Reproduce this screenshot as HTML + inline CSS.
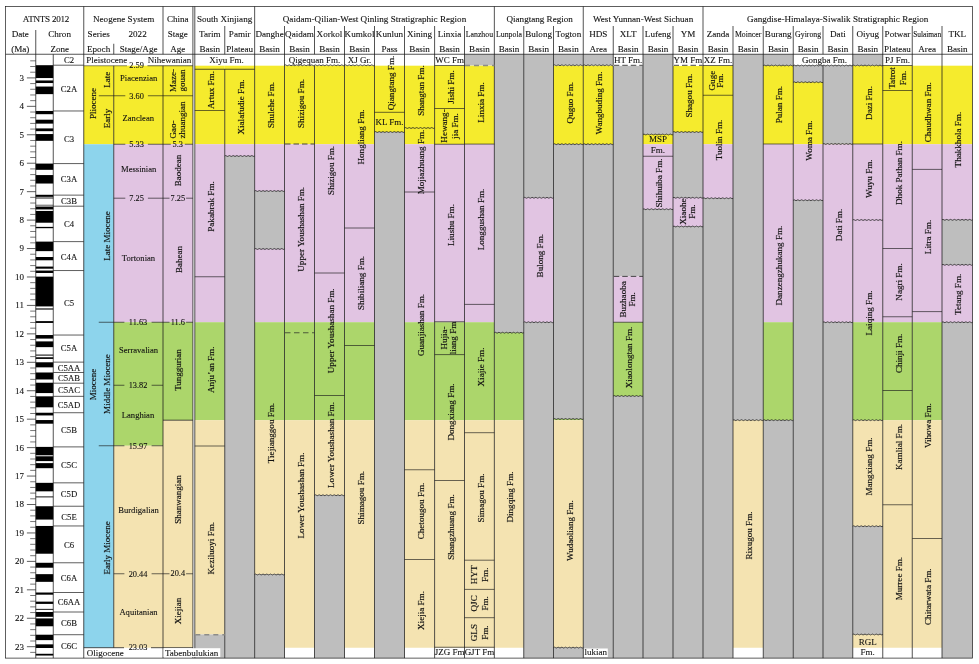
<!DOCTYPE html>
<html><head><meta charset="utf-8"><title>Neogene stratigraphic correlation chart</title>
<style>
html,body{margin:0;padding:0;background:#fff;}
body{width:979px;height:664px;overflow:hidden;font-family:"Liberation Serif", serif;}
svg{display:block;will-change:transform;}
svg text{font-family:"Liberation Serif", serif;}
</style></head><body>
<svg width="979" height="664" viewBox="0 0 979 664">
<rect x="0" y="0" width="979" height="664" fill="#fff"/>
<rect x="194.80" y="65.70" width="29.95" height="78.60" fill="#F5EB2D"/>
<rect x="194.80" y="144.20" width="29.95" height="178.10" fill="#E1C4E2"/>
<rect x="194.80" y="322.20" width="29.95" height="98.05" fill="#ACD66B"/>
<rect x="194.80" y="420.15" width="29.95" height="214.40" fill="#F4E3B1"/>
<rect x="194.80" y="634.50" width="29.95" height="23.60" fill="#BEBEBE"/>
<rect x="224.75" y="65.70" width="29.90" height="78.60" fill="#F5EB2D"/>
<rect x="224.75" y="144.20" width="29.90" height="11.85" fill="#E1C4E2"/>
<rect x="224.75" y="156.00" width="29.90" height="502.10" fill="#BEBEBE"/>
<rect x="254.65" y="65.70" width="29.85" height="78.60" fill="#F5EB2D"/>
<rect x="254.65" y="144.20" width="29.85" height="46.85" fill="#E1C4E2"/>
<rect x="254.65" y="191.00" width="29.85" height="58.00" fill="#BEBEBE"/>
<rect x="254.65" y="248.95" width="29.85" height="73.35" fill="#E1C4E2"/>
<rect x="254.65" y="322.20" width="29.85" height="98.05" fill="#ACD66B"/>
<rect x="254.65" y="420.15" width="29.85" height="154.40" fill="#F4E3B1"/>
<rect x="254.65" y="574.50" width="29.85" height="83.60" fill="#BEBEBE"/>
<rect x="284.50" y="65.70" width="30.00" height="78.60" fill="#F5EB2D"/>
<rect x="284.50" y="144.20" width="30.00" height="178.10" fill="#E1C4E2"/>
<rect x="284.50" y="322.20" width="30.00" height="98.05" fill="#ACD66B"/>
<rect x="284.50" y="420.15" width="30.00" height="227.60" fill="#F4E3B1"/>
<rect x="314.50" y="65.70" width="30.00" height="78.60" fill="#F5EB2D"/>
<rect x="314.50" y="144.20" width="30.00" height="178.10" fill="#E1C4E2"/>
<rect x="314.50" y="322.20" width="30.00" height="98.05" fill="#ACD66B"/>
<rect x="314.50" y="420.15" width="30.00" height="75.15" fill="#F4E3B1"/>
<rect x="314.50" y="495.25" width="30.00" height="162.85" fill="#BEBEBE"/>
<rect x="344.50" y="65.70" width="30.00" height="78.60" fill="#F5EB2D"/>
<rect x="344.50" y="144.20" width="30.00" height="178.10" fill="#E1C4E2"/>
<rect x="344.50" y="322.20" width="30.00" height="98.05" fill="#ACD66B"/>
<rect x="344.50" y="420.15" width="30.00" height="227.60" fill="#F4E3B1"/>
<rect x="374.50" y="65.70" width="30.00" height="66.35" fill="#F5EB2D"/>
<rect x="374.50" y="132.00" width="30.00" height="526.10" fill="#BEBEBE"/>
<rect x="404.50" y="65.70" width="30.10" height="78.60" fill="#F5EB2D"/>
<rect x="404.50" y="144.20" width="30.10" height="178.10" fill="#E1C4E2"/>
<rect x="404.50" y="322.20" width="30.10" height="98.05" fill="#ACD66B"/>
<rect x="404.50" y="420.15" width="30.10" height="227.60" fill="#F4E3B1"/>
<rect x="434.60" y="65.70" width="29.90" height="78.60" fill="#F5EB2D"/>
<rect x="434.60" y="144.20" width="29.90" height="178.10" fill="#E1C4E2"/>
<rect x="434.60" y="322.20" width="29.90" height="98.05" fill="#ACD66B"/>
<rect x="434.60" y="420.15" width="29.90" height="227.60" fill="#F4E3B1"/>
<rect x="464.50" y="54.25" width="29.85" height="11.25" fill="#BEBEBE"/>
<rect x="464.50" y="65.70" width="29.85" height="78.60" fill="#F5EB2D"/>
<rect x="464.50" y="144.20" width="29.85" height="178.10" fill="#E1C4E2"/>
<rect x="464.50" y="322.20" width="29.85" height="98.05" fill="#ACD66B"/>
<rect x="464.50" y="420.15" width="29.85" height="227.60" fill="#F4E3B1"/>
<rect x="494.35" y="54.25" width="29.40" height="278.45" fill="#BEBEBE"/>
<rect x="494.35" y="332.65" width="29.40" height="87.60" fill="#ACD66B"/>
<rect x="494.35" y="420.15" width="29.40" height="227.60" fill="#F4E3B1"/>
<rect x="523.75" y="54.25" width="29.75" height="143.50" fill="#BEBEBE"/>
<rect x="523.75" y="197.70" width="29.75" height="124.60" fill="#E1C4E2"/>
<rect x="523.75" y="322.25" width="29.75" height="335.85" fill="#BEBEBE"/>
<rect x="553.50" y="54.25" width="29.75" height="10.75" fill="#BEBEBE"/>
<rect x="553.50" y="65.70" width="29.75" height="78.35" fill="#F5EB2D"/>
<rect x="553.50" y="144.00" width="29.75" height="275.00" fill="#BEBEBE"/>
<rect x="553.50" y="418.95" width="29.75" height="1.30" fill="#ACD66B"/>
<rect x="553.50" y="420.15" width="29.75" height="227.50" fill="#F4E3B1"/>
<rect x="553.50" y="647.60" width="29.75" height="10.50" fill="#BEBEBE"/>
<rect x="583.25" y="54.25" width="30.00" height="10.75" fill="#BEBEBE"/>
<rect x="583.25" y="65.70" width="30.00" height="78.35" fill="#F5EB2D"/>
<rect x="583.25" y="144.00" width="30.00" height="514.10" fill="#BEBEBE"/>
<rect x="613.25" y="65.30" width="29.75" height="211.10" fill="#BEBEBE"/>
<rect x="613.25" y="276.35" width="29.75" height="45.95" fill="#E1C4E2"/>
<rect x="613.25" y="322.20" width="29.75" height="73.85" fill="#ACD66B"/>
<rect x="613.25" y="396.00" width="29.75" height="262.10" fill="#BEBEBE"/>
<rect x="643.00" y="54.25" width="30.00" height="80.25" fill="#BEBEBE"/>
<rect x="643.00" y="134.45" width="30.00" height="9.85" fill="#F5EB2D"/>
<rect x="643.00" y="144.20" width="30.00" height="65.10" fill="#E1C4E2"/>
<rect x="643.00" y="209.25" width="30.00" height="448.85" fill="#BEBEBE"/>
<rect x="673.00" y="65.70" width="30.00" height="66.35" fill="#F5EB2D"/>
<rect x="673.00" y="132.00" width="30.00" height="65.75" fill="#BEBEBE"/>
<rect x="673.00" y="197.70" width="30.00" height="28.85" fill="#E1C4E2"/>
<rect x="673.00" y="226.50" width="30.00" height="431.60" fill="#BEBEBE"/>
<rect x="703.00" y="65.70" width="30.00" height="78.60" fill="#F5EB2D"/>
<rect x="703.00" y="144.20" width="30.00" height="54.10" fill="#E1C4E2"/>
<rect x="703.00" y="198.25" width="30.00" height="459.85" fill="#BEBEBE"/>
<rect x="733.00" y="54.25" width="30.25" height="365.95" fill="#BEBEBE"/>
<rect x="733.00" y="420.15" width="30.25" height="227.60" fill="#F4E3B1"/>
<rect x="763.25" y="54.25" width="30.00" height="11.25" fill="#BEBEBE"/>
<rect x="763.25" y="65.70" width="30.00" height="78.60" fill="#F5EB2D"/>
<rect x="763.25" y="144.20" width="30.00" height="178.10" fill="#E1C4E2"/>
<rect x="763.25" y="322.20" width="30.00" height="98.05" fill="#ACD66B"/>
<rect x="763.25" y="420.20" width="30.00" height="237.90" fill="#BEBEBE"/>
<rect x="793.25" y="65.50" width="29.75" height="16.75" fill="#BEBEBE"/>
<rect x="793.25" y="82.20" width="29.75" height="62.10" fill="#F5EB2D"/>
<rect x="793.25" y="144.20" width="29.75" height="56.10" fill="#E1C4E2"/>
<rect x="793.25" y="200.25" width="29.75" height="457.85" fill="#BEBEBE"/>
<rect x="823.00" y="65.50" width="29.75" height="78.50" fill="#BEBEBE"/>
<rect x="823.00" y="143.95" width="29.75" height="0.35" fill="#F5EB2D"/>
<rect x="823.00" y="144.20" width="29.75" height="178.10" fill="#E1C4E2"/>
<rect x="823.00" y="322.25" width="29.75" height="335.85" fill="#BEBEBE"/>
<rect x="852.75" y="54.25" width="30.00" height="11.25" fill="#BEBEBE"/>
<rect x="852.75" y="65.70" width="30.00" height="78.60" fill="#F5EB2D"/>
<rect x="852.75" y="144.20" width="30.00" height="178.10" fill="#E1C4E2"/>
<rect x="852.75" y="322.20" width="30.00" height="98.05" fill="#ACD66B"/>
<rect x="852.75" y="420.15" width="30.00" height="106.15" fill="#F4E3B1"/>
<rect x="852.75" y="526.25" width="30.00" height="108.25" fill="#BEBEBE"/>
<rect x="852.75" y="634.45" width="30.00" height="13.30" fill="#F4E3B1"/>
<rect x="882.75" y="65.70" width="29.50" height="78.60" fill="#F5EB2D"/>
<rect x="882.75" y="144.20" width="29.50" height="178.10" fill="#E1C4E2"/>
<rect x="882.75" y="322.20" width="29.50" height="98.05" fill="#ACD66B"/>
<rect x="882.75" y="420.15" width="29.50" height="227.60" fill="#F4E3B1"/>
<rect x="912.25" y="65.70" width="29.75" height="78.60" fill="#F5EB2D"/>
<rect x="912.25" y="144.20" width="29.75" height="178.10" fill="#E1C4E2"/>
<rect x="912.25" y="322.20" width="29.75" height="98.05" fill="#ACD66B"/>
<rect x="912.25" y="420.15" width="29.75" height="227.60" fill="#F4E3B1"/>
<rect x="942.00" y="65.70" width="30.50" height="78.60" fill="#F5EB2D"/>
<rect x="942.00" y="144.20" width="30.50" height="75.65" fill="#E1C4E2"/>
<rect x="942.00" y="219.80" width="30.50" height="45.00" fill="#BEBEBE"/>
<rect x="942.00" y="264.75" width="30.50" height="57.55" fill="#E1C4E2"/>
<rect x="942.00" y="322.25" width="30.50" height="335.85" fill="#BEBEBE"/>
<rect x="83.75" y="65.75" width="30.00" height="78.50" fill="#F5EB2D"/>
<rect x="83.75" y="144.25" width="30.00" height="503.45" fill="#8DD4EC"/>
<rect x="113.75" y="65.70" width="49.25" height="78.60" fill="#F5EB2D"/>
<rect x="113.75" y="144.20" width="49.25" height="178.10" fill="#E1C4E2"/>
<rect x="113.75" y="322.20" width="49.25" height="123.60" fill="#ACD66B"/>
<rect x="113.75" y="445.70" width="49.25" height="202.05" fill="#F4E3B1"/>
<rect x="163.00" y="65.70" width="29.90" height="78.60" fill="#F5EB2D"/>
<rect x="163.00" y="144.20" width="29.90" height="178.10" fill="#E1C4E2"/>
<rect x="163.00" y="322.20" width="29.90" height="98.05" fill="#ACD66B"/>
<rect x="163.00" y="420.15" width="29.90" height="227.60" fill="#F4E3B1"/>
<rect x="192.90" y="54.25" width="1.90" height="603.85" fill="#FFFFFF"/>
<rect x="35.75" y="65.20" width="17.50" height="12.85" fill="#000"/>
<rect x="35.75" y="80.45" width="17.50" height="2.59" fill="#000"/>
<rect x="35.75" y="86.55" width="17.50" height="7.58" fill="#000"/>
<rect x="35.75" y="110.97" width="17.50" height="3.22" fill="#000"/>
<rect x="35.75" y="119.69" width="17.50" height="3.93" fill="#000"/>
<rect x="35.75" y="128.41" width="17.50" height="2.76" fill="#000"/>
<rect x="35.75" y="134.05" width="17.50" height="6.78" fill="#000"/>
<rect x="35.75" y="163.58" width="17.50" height="6.24" fill="#000"/>
<rect x="35.75" y="175.07" width="17.50" height="8.46" fill="#000"/>
<rect x="35.75" y="194.79" width="17.50" height="2.05" fill="#000"/>
<rect x="35.75" y="206.19" width="17.50" height="3.25" fill="#000"/>
<rect x="35.75" y="210.95" width="17.50" height="11.77" fill="#000"/>
<rect x="35.75" y="226.88" width="17.50" height="1.31" fill="#000"/>
<rect x="35.75" y="241.61" width="17.50" height="9.52" fill="#000"/>
<rect x="35.75" y="257.00" width="17.50" height="3.28" fill="#000"/>
<rect x="35.75" y="266.58" width="17.50" height="2.11" fill="#000"/>
<rect x="35.75" y="270.54" width="17.50" height="2.45" fill="#000"/>
<rect x="35.75" y="276.64" width="17.50" height="29.78" fill="#000"/>
<rect x="35.75" y="308.42" width="17.50" height="1.14" fill="#000"/>
<rect x="35.75" y="321.10" width="17.50" height="1.85" fill="#000"/>
<rect x="35.75" y="335.04" width="17.50" height="3.56" fill="#000"/>
<rect x="35.75" y="341.39" width="17.50" height="5.76" fill="#000"/>
<rect x="35.75" y="354.59" width="17.50" height="1.00" fill="#000"/>
<rect x="35.75" y="357.27" width="17.50" height="1.65" fill="#000"/>
<rect x="35.75" y="362.28" width="17.50" height="5.07" fill="#000"/>
<rect x="35.75" y="372.49" width="17.50" height="6.98" fill="#000"/>
<rect x="35.75" y="382.72" width="17.50" height="10.35" fill="#000"/>
<rect x="35.75" y="396.34" width="17.50" height="10.97" fill="#000"/>
<rect x="35.75" y="412.73" width="17.50" height="2.71" fill="#000"/>
<rect x="35.75" y="420.05" width="17.50" height="3.65" fill="#000"/>
<rect x="35.75" y="446.90" width="17.50" height="8.38" fill="#000"/>
<rect x="35.75" y="456.28" width="17.50" height="4.82" fill="#000"/>
<rect x="35.75" y="463.12" width="17.50" height="5.07" fill="#000"/>
<rect x="35.75" y="482.84" width="17.50" height="8.49" fill="#000"/>
<rect x="35.75" y="496.45" width="17.50" height="0.90" fill="#000"/>
<rect x="35.75" y="506.24" width="17.50" height="13.34" fill="#000"/>
<rect x="35.75" y="525.96" width="17.50" height="27.76" fill="#000"/>
<rect x="35.75" y="562.78" width="17.50" height="4.93" fill="#000"/>
<rect x="35.75" y="574.15" width="17.50" height="7.69" fill="#000"/>
<rect x="35.75" y="592.51" width="17.50" height="2.17" fill="#000"/>
<rect x="35.75" y="601.63" width="17.50" height="2.28" fill="#000"/>
<rect x="35.75" y="608.88" width="17.50" height="0.90" fill="#000"/>
<rect x="35.75" y="612.00" width="17.50" height="4.82" fill="#000"/>
<rect x="35.75" y="618.41" width="17.50" height="7.87" fill="#000"/>
<rect x="35.75" y="634.71" width="17.50" height="5.41" fill="#000"/>
<rect x="35.75" y="644.35" width="17.50" height="3.65" fill="#000"/>
<rect x="35.75" y="653.78" width="17.50" height="1.77" fill="#000"/>
<rect x="35.75" y="197.00" width="17.50" height="2.00" fill="#8e8e8e"/>
<rect x="35.75" y="204.60" width="17.50" height="2.40" fill="#8e8e8e"/>
<line x1="30.20" y1="60.84" x2="35.75" y2="60.84" stroke="#1a1a1a" stroke-width="0.6"/>
<line x1="30.20" y1="66.52" x2="35.75" y2="66.52" stroke="#1a1a1a" stroke-width="0.6"/>
<line x1="30.20" y1="72.21" x2="35.75" y2="72.21" stroke="#1a1a1a" stroke-width="0.6"/>
<line x1="26.90" y1="77.90" x2="35.75" y2="77.90" stroke="#1a1a1a" stroke-width="0.7"/>
<line x1="30.20" y1="83.59" x2="35.75" y2="83.59" stroke="#1a1a1a" stroke-width="0.6"/>
<line x1="30.20" y1="89.28" x2="35.75" y2="89.28" stroke="#1a1a1a" stroke-width="0.6"/>
<line x1="30.20" y1="94.96" x2="35.75" y2="94.96" stroke="#1a1a1a" stroke-width="0.6"/>
<line x1="30.20" y1="100.65" x2="35.75" y2="100.65" stroke="#1a1a1a" stroke-width="0.6"/>
<line x1="26.90" y1="106.34" x2="35.75" y2="106.34" stroke="#1a1a1a" stroke-width="0.7"/>
<line x1="30.20" y1="112.03" x2="35.75" y2="112.03" stroke="#1a1a1a" stroke-width="0.6"/>
<line x1="30.20" y1="117.72" x2="35.75" y2="117.72" stroke="#1a1a1a" stroke-width="0.6"/>
<line x1="30.20" y1="123.40" x2="35.75" y2="123.40" stroke="#1a1a1a" stroke-width="0.6"/>
<line x1="30.20" y1="129.09" x2="35.75" y2="129.09" stroke="#1a1a1a" stroke-width="0.6"/>
<line x1="26.90" y1="134.78" x2="35.75" y2="134.78" stroke="#1a1a1a" stroke-width="0.7"/>
<line x1="30.20" y1="140.47" x2="35.75" y2="140.47" stroke="#1a1a1a" stroke-width="0.6"/>
<line x1="30.20" y1="146.16" x2="35.75" y2="146.16" stroke="#1a1a1a" stroke-width="0.6"/>
<line x1="30.20" y1="151.84" x2="35.75" y2="151.84" stroke="#1a1a1a" stroke-width="0.6"/>
<line x1="30.20" y1="157.53" x2="35.75" y2="157.53" stroke="#1a1a1a" stroke-width="0.6"/>
<line x1="26.90" y1="163.22" x2="35.75" y2="163.22" stroke="#1a1a1a" stroke-width="0.7"/>
<line x1="30.20" y1="168.91" x2="35.75" y2="168.91" stroke="#1a1a1a" stroke-width="0.6"/>
<line x1="30.20" y1="174.60" x2="35.75" y2="174.60" stroke="#1a1a1a" stroke-width="0.6"/>
<line x1="30.20" y1="180.28" x2="35.75" y2="180.28" stroke="#1a1a1a" stroke-width="0.6"/>
<line x1="30.20" y1="185.97" x2="35.75" y2="185.97" stroke="#1a1a1a" stroke-width="0.6"/>
<line x1="26.90" y1="191.66" x2="35.75" y2="191.66" stroke="#1a1a1a" stroke-width="0.7"/>
<line x1="30.20" y1="197.35" x2="35.75" y2="197.35" stroke="#1a1a1a" stroke-width="0.6"/>
<line x1="30.20" y1="203.04" x2="35.75" y2="203.04" stroke="#1a1a1a" stroke-width="0.6"/>
<line x1="30.20" y1="208.72" x2="35.75" y2="208.72" stroke="#1a1a1a" stroke-width="0.6"/>
<line x1="30.20" y1="214.41" x2="35.75" y2="214.41" stroke="#1a1a1a" stroke-width="0.6"/>
<line x1="26.90" y1="220.10" x2="35.75" y2="220.10" stroke="#1a1a1a" stroke-width="0.7"/>
<line x1="30.20" y1="225.79" x2="35.75" y2="225.79" stroke="#1a1a1a" stroke-width="0.6"/>
<line x1="30.20" y1="231.48" x2="35.75" y2="231.48" stroke="#1a1a1a" stroke-width="0.6"/>
<line x1="30.20" y1="237.16" x2="35.75" y2="237.16" stroke="#1a1a1a" stroke-width="0.6"/>
<line x1="30.20" y1="242.85" x2="35.75" y2="242.85" stroke="#1a1a1a" stroke-width="0.6"/>
<line x1="26.90" y1="248.54" x2="35.75" y2="248.54" stroke="#1a1a1a" stroke-width="0.7"/>
<line x1="30.20" y1="254.23" x2="35.75" y2="254.23" stroke="#1a1a1a" stroke-width="0.6"/>
<line x1="30.20" y1="259.92" x2="35.75" y2="259.92" stroke="#1a1a1a" stroke-width="0.6"/>
<line x1="30.20" y1="265.60" x2="35.75" y2="265.60" stroke="#1a1a1a" stroke-width="0.6"/>
<line x1="30.20" y1="271.29" x2="35.75" y2="271.29" stroke="#1a1a1a" stroke-width="0.6"/>
<line x1="26.90" y1="276.98" x2="35.75" y2="276.98" stroke="#1a1a1a" stroke-width="0.7"/>
<line x1="30.20" y1="282.67" x2="35.75" y2="282.67" stroke="#1a1a1a" stroke-width="0.6"/>
<line x1="30.20" y1="288.36" x2="35.75" y2="288.36" stroke="#1a1a1a" stroke-width="0.6"/>
<line x1="30.20" y1="294.04" x2="35.75" y2="294.04" stroke="#1a1a1a" stroke-width="0.6"/>
<line x1="30.20" y1="299.73" x2="35.75" y2="299.73" stroke="#1a1a1a" stroke-width="0.6"/>
<line x1="26.90" y1="305.42" x2="35.75" y2="305.42" stroke="#1a1a1a" stroke-width="0.7"/>
<line x1="30.20" y1="311.11" x2="35.75" y2="311.11" stroke="#1a1a1a" stroke-width="0.6"/>
<line x1="30.20" y1="316.80" x2="35.75" y2="316.80" stroke="#1a1a1a" stroke-width="0.6"/>
<line x1="30.20" y1="322.48" x2="35.75" y2="322.48" stroke="#1a1a1a" stroke-width="0.6"/>
<line x1="30.20" y1="328.17" x2="35.75" y2="328.17" stroke="#1a1a1a" stroke-width="0.6"/>
<line x1="26.90" y1="333.86" x2="35.75" y2="333.86" stroke="#1a1a1a" stroke-width="0.7"/>
<line x1="30.20" y1="339.55" x2="35.75" y2="339.55" stroke="#1a1a1a" stroke-width="0.6"/>
<line x1="30.20" y1="345.24" x2="35.75" y2="345.24" stroke="#1a1a1a" stroke-width="0.6"/>
<line x1="30.20" y1="350.92" x2="35.75" y2="350.92" stroke="#1a1a1a" stroke-width="0.6"/>
<line x1="30.20" y1="356.61" x2="35.75" y2="356.61" stroke="#1a1a1a" stroke-width="0.6"/>
<line x1="26.90" y1="362.30" x2="35.75" y2="362.30" stroke="#1a1a1a" stroke-width="0.7"/>
<line x1="30.20" y1="367.99" x2="35.75" y2="367.99" stroke="#1a1a1a" stroke-width="0.6"/>
<line x1="30.20" y1="373.68" x2="35.75" y2="373.68" stroke="#1a1a1a" stroke-width="0.6"/>
<line x1="30.20" y1="379.36" x2="35.75" y2="379.36" stroke="#1a1a1a" stroke-width="0.6"/>
<line x1="30.20" y1="385.05" x2="35.75" y2="385.05" stroke="#1a1a1a" stroke-width="0.6"/>
<line x1="26.90" y1="390.74" x2="35.75" y2="390.74" stroke="#1a1a1a" stroke-width="0.7"/>
<line x1="30.20" y1="396.43" x2="35.75" y2="396.43" stroke="#1a1a1a" stroke-width="0.6"/>
<line x1="30.20" y1="402.12" x2="35.75" y2="402.12" stroke="#1a1a1a" stroke-width="0.6"/>
<line x1="30.20" y1="407.80" x2="35.75" y2="407.80" stroke="#1a1a1a" stroke-width="0.6"/>
<line x1="30.20" y1="413.49" x2="35.75" y2="413.49" stroke="#1a1a1a" stroke-width="0.6"/>
<line x1="26.90" y1="419.18" x2="35.75" y2="419.18" stroke="#1a1a1a" stroke-width="0.7"/>
<line x1="30.20" y1="424.87" x2="35.75" y2="424.87" stroke="#1a1a1a" stroke-width="0.6"/>
<line x1="30.20" y1="430.56" x2="35.75" y2="430.56" stroke="#1a1a1a" stroke-width="0.6"/>
<line x1="30.20" y1="436.24" x2="35.75" y2="436.24" stroke="#1a1a1a" stroke-width="0.6"/>
<line x1="30.20" y1="441.93" x2="35.75" y2="441.93" stroke="#1a1a1a" stroke-width="0.6"/>
<line x1="26.90" y1="447.62" x2="35.75" y2="447.62" stroke="#1a1a1a" stroke-width="0.7"/>
<line x1="30.20" y1="453.31" x2="35.75" y2="453.31" stroke="#1a1a1a" stroke-width="0.6"/>
<line x1="30.20" y1="459.00" x2="35.75" y2="459.00" stroke="#1a1a1a" stroke-width="0.6"/>
<line x1="30.20" y1="464.68" x2="35.75" y2="464.68" stroke="#1a1a1a" stroke-width="0.6"/>
<line x1="30.20" y1="470.37" x2="35.75" y2="470.37" stroke="#1a1a1a" stroke-width="0.6"/>
<line x1="26.90" y1="476.06" x2="35.75" y2="476.06" stroke="#1a1a1a" stroke-width="0.7"/>
<line x1="30.20" y1="481.75" x2="35.75" y2="481.75" stroke="#1a1a1a" stroke-width="0.6"/>
<line x1="30.20" y1="487.44" x2="35.75" y2="487.44" stroke="#1a1a1a" stroke-width="0.6"/>
<line x1="30.20" y1="493.12" x2="35.75" y2="493.12" stroke="#1a1a1a" stroke-width="0.6"/>
<line x1="30.20" y1="498.81" x2="35.75" y2="498.81" stroke="#1a1a1a" stroke-width="0.6"/>
<line x1="26.90" y1="504.50" x2="35.75" y2="504.50" stroke="#1a1a1a" stroke-width="0.7"/>
<line x1="30.20" y1="510.19" x2="35.75" y2="510.19" stroke="#1a1a1a" stroke-width="0.6"/>
<line x1="30.20" y1="515.88" x2="35.75" y2="515.88" stroke="#1a1a1a" stroke-width="0.6"/>
<line x1="30.20" y1="521.56" x2="35.75" y2="521.56" stroke="#1a1a1a" stroke-width="0.6"/>
<line x1="30.20" y1="527.25" x2="35.75" y2="527.25" stroke="#1a1a1a" stroke-width="0.6"/>
<line x1="26.90" y1="532.94" x2="35.75" y2="532.94" stroke="#1a1a1a" stroke-width="0.7"/>
<line x1="30.20" y1="538.63" x2="35.75" y2="538.63" stroke="#1a1a1a" stroke-width="0.6"/>
<line x1="30.20" y1="544.32" x2="35.75" y2="544.32" stroke="#1a1a1a" stroke-width="0.6"/>
<line x1="30.20" y1="550.00" x2="35.75" y2="550.00" stroke="#1a1a1a" stroke-width="0.6"/>
<line x1="30.20" y1="555.69" x2="35.75" y2="555.69" stroke="#1a1a1a" stroke-width="0.6"/>
<line x1="26.90" y1="561.38" x2="35.75" y2="561.38" stroke="#1a1a1a" stroke-width="0.7"/>
<line x1="30.20" y1="567.07" x2="35.75" y2="567.07" stroke="#1a1a1a" stroke-width="0.6"/>
<line x1="30.20" y1="572.76" x2="35.75" y2="572.76" stroke="#1a1a1a" stroke-width="0.6"/>
<line x1="30.20" y1="578.44" x2="35.75" y2="578.44" stroke="#1a1a1a" stroke-width="0.6"/>
<line x1="30.20" y1="584.13" x2="35.75" y2="584.13" stroke="#1a1a1a" stroke-width="0.6"/>
<line x1="26.90" y1="589.82" x2="35.75" y2="589.82" stroke="#1a1a1a" stroke-width="0.7"/>
<line x1="30.20" y1="595.51" x2="35.75" y2="595.51" stroke="#1a1a1a" stroke-width="0.6"/>
<line x1="30.20" y1="601.20" x2="35.75" y2="601.20" stroke="#1a1a1a" stroke-width="0.6"/>
<line x1="30.20" y1="606.88" x2="35.75" y2="606.88" stroke="#1a1a1a" stroke-width="0.6"/>
<line x1="30.20" y1="612.57" x2="35.75" y2="612.57" stroke="#1a1a1a" stroke-width="0.6"/>
<line x1="26.90" y1="618.26" x2="35.75" y2="618.26" stroke="#1a1a1a" stroke-width="0.7"/>
<line x1="30.20" y1="623.95" x2="35.75" y2="623.95" stroke="#1a1a1a" stroke-width="0.6"/>
<line x1="30.20" y1="629.64" x2="35.75" y2="629.64" stroke="#1a1a1a" stroke-width="0.6"/>
<line x1="30.20" y1="635.32" x2="35.75" y2="635.32" stroke="#1a1a1a" stroke-width="0.6"/>
<line x1="30.20" y1="641.01" x2="35.75" y2="641.01" stroke="#1a1a1a" stroke-width="0.6"/>
<line x1="26.90" y1="646.70" x2="35.75" y2="646.70" stroke="#1a1a1a" stroke-width="0.7"/>
<line x1="30.20" y1="652.39" x2="35.75" y2="652.39" stroke="#1a1a1a" stroke-width="0.6"/>
<text x="24.00" y="80.82" font-size="9" text-anchor="end" fill="#111" stroke="#111" stroke-width="0.1">3</text>
<text x="24.00" y="109.26" font-size="9" text-anchor="end" fill="#111" stroke="#111" stroke-width="0.1">4</text>
<text x="24.00" y="137.70" font-size="9" text-anchor="end" fill="#111" stroke="#111" stroke-width="0.1">5</text>
<text x="24.00" y="166.14" font-size="9" text-anchor="end" fill="#111" stroke="#111" stroke-width="0.1">6</text>
<text x="24.00" y="194.58" font-size="9" text-anchor="end" fill="#111" stroke="#111" stroke-width="0.1">7</text>
<text x="24.00" y="223.02" font-size="9" text-anchor="end" fill="#111" stroke="#111" stroke-width="0.1">8</text>
<text x="24.00" y="251.46" font-size="9" text-anchor="end" fill="#111" stroke="#111" stroke-width="0.1">9</text>
<text x="24.00" y="279.90" font-size="9" text-anchor="end" fill="#111" stroke="#111" stroke-width="0.1">10</text>
<text x="24.00" y="308.34" font-size="9" text-anchor="end" fill="#111" stroke="#111" stroke-width="0.1">11</text>
<text x="24.00" y="336.78" font-size="9" text-anchor="end" fill="#111" stroke="#111" stroke-width="0.1">12</text>
<text x="24.00" y="365.22" font-size="9" text-anchor="end" fill="#111" stroke="#111" stroke-width="0.1">13</text>
<text x="24.00" y="393.66" font-size="9" text-anchor="end" fill="#111" stroke="#111" stroke-width="0.1">14</text>
<text x="24.00" y="422.10" font-size="9" text-anchor="end" fill="#111" stroke="#111" stroke-width="0.1">15</text>
<text x="24.00" y="450.54" font-size="9" text-anchor="end" fill="#111" stroke="#111" stroke-width="0.1">16</text>
<text x="24.00" y="478.98" font-size="9" text-anchor="end" fill="#111" stroke="#111" stroke-width="0.1">17</text>
<text x="24.00" y="507.42" font-size="9" text-anchor="end" fill="#111" stroke="#111" stroke-width="0.1">18</text>
<text x="24.00" y="535.86" font-size="9" text-anchor="end" fill="#111" stroke="#111" stroke-width="0.1">19</text>
<text x="24.00" y="564.30" font-size="9" text-anchor="end" fill="#111" stroke="#111" stroke-width="0.1">20</text>
<text x="24.00" y="592.74" font-size="9" text-anchor="end" fill="#111" stroke="#111" stroke-width="0.1">21</text>
<text x="24.00" y="621.18" font-size="9" text-anchor="end" fill="#111" stroke="#111" stroke-width="0.1">22</text>
<text x="24.00" y="649.62" font-size="9" text-anchor="end" fill="#111" stroke="#111" stroke-width="0.1">23</text>
<text x="69.00" y="63.37" font-size="8.7" text-anchor="middle" fill="#111" stroke="#111" stroke-width="0.1">C2</text>
<line x1="53.25" y1="65.20" x2="83.75" y2="65.20" stroke="#1a1a1a" stroke-width="0.7"/>
<text x="69.00" y="91.62" font-size="8.7" text-anchor="middle" fill="#111" stroke="#111" stroke-width="0.1">C2A</text>
<line x1="53.25" y1="110.97" x2="83.75" y2="110.97" stroke="#1a1a1a" stroke-width="0.7"/>
<text x="69.00" y="141.62" font-size="8.7" text-anchor="middle" fill="#111" stroke="#111" stroke-width="0.1">C3</text>
<line x1="53.25" y1="163.58" x2="83.75" y2="163.58" stroke="#1a1a1a" stroke-width="0.7"/>
<text x="69.00" y="182.12" font-size="8.7" text-anchor="middle" fill="#111" stroke="#111" stroke-width="0.1">C3A</text>
<line x1="53.25" y1="195.13" x2="83.75" y2="195.13" stroke="#1a1a1a" stroke-width="0.7"/>
<text x="69.00" y="203.67" font-size="8.7" text-anchor="middle" fill="#111" stroke="#111" stroke-width="0.1">C3B</text>
<line x1="53.25" y1="206.19" x2="83.75" y2="206.19" stroke="#1a1a1a" stroke-width="0.7"/>
<text x="69.00" y="227.27" font-size="8.7" text-anchor="middle" fill="#111" stroke="#111" stroke-width="0.1">C4</text>
<line x1="53.25" y1="241.61" x2="83.75" y2="241.61" stroke="#1a1a1a" stroke-width="0.7"/>
<text x="69.00" y="259.62" font-size="8.7" text-anchor="middle" fill="#111" stroke="#111" stroke-width="0.1">C4A</text>
<line x1="53.25" y1="270.54" x2="83.75" y2="270.54" stroke="#1a1a1a" stroke-width="0.7"/>
<text x="69.00" y="305.87" font-size="8.7" text-anchor="middle" fill="#111" stroke="#111" stroke-width="0.1">C5</text>
<line x1="53.25" y1="335.04" x2="83.75" y2="335.04" stroke="#1a1a1a" stroke-width="0.7"/>
<text x="69.00" y="350.87" font-size="8.7" text-anchor="middle" fill="#111" stroke="#111" stroke-width="0.1">C5A</text>
<line x1="53.25" y1="362.14" x2="83.75" y2="362.14" stroke="#1a1a1a" stroke-width="0.7"/>
<text x="69.00" y="370.87" font-size="8.7" text-anchor="middle" fill="#111" stroke="#111" stroke-width="0.1">C5AA</text>
<line x1="53.25" y1="372.49" x2="83.75" y2="372.49" stroke="#1a1a1a" stroke-width="0.7"/>
<text x="69.00" y="380.87" font-size="8.7" text-anchor="middle" fill="#111" stroke="#111" stroke-width="0.1">C5AB</text>
<line x1="53.25" y1="383.20" x2="83.75" y2="383.20" stroke="#1a1a1a" stroke-width="0.7"/>
<text x="69.00" y="392.77" font-size="8.7" text-anchor="middle" fill="#111" stroke="#111" stroke-width="0.1">C5AC</text>
<line x1="53.25" y1="396.34" x2="83.75" y2="396.34" stroke="#1a1a1a" stroke-width="0.7"/>
<text x="69.00" y="407.77" font-size="8.7" text-anchor="middle" fill="#111" stroke="#111" stroke-width="0.1">C5AD</text>
<line x1="53.25" y1="412.73" x2="83.75" y2="412.73" stroke="#1a1a1a" stroke-width="0.7"/>
<text x="69.00" y="432.87" font-size="8.7" text-anchor="middle" fill="#111" stroke="#111" stroke-width="0.1">C5B</text>
<line x1="53.25" y1="446.90" x2="83.75" y2="446.90" stroke="#1a1a1a" stroke-width="0.7"/>
<text x="69.00" y="467.87" font-size="8.7" text-anchor="middle" fill="#111" stroke="#111" stroke-width="0.1">C5C</text>
<line x1="53.25" y1="482.84" x2="83.75" y2="482.84" stroke="#1a1a1a" stroke-width="0.7"/>
<text x="69.00" y="497.17" font-size="8.7" text-anchor="middle" fill="#111" stroke="#111" stroke-width="0.1">C5D</text>
<line x1="53.25" y1="506.24" x2="83.75" y2="506.24" stroke="#1a1a1a" stroke-width="0.7"/>
<text x="69.00" y="519.62" font-size="8.7" text-anchor="middle" fill="#111" stroke="#111" stroke-width="0.1">C5E</text>
<line x1="53.25" y1="525.96" x2="83.75" y2="525.96" stroke="#1a1a1a" stroke-width="0.7"/>
<text x="69.00" y="548.37" font-size="8.7" text-anchor="middle" fill="#111" stroke="#111" stroke-width="0.1">C6</text>
<line x1="53.25" y1="562.78" x2="83.75" y2="562.78" stroke="#1a1a1a" stroke-width="0.7"/>
<text x="69.00" y="580.87" font-size="8.7" text-anchor="middle" fill="#111" stroke="#111" stroke-width="0.1">C6A</text>
<line x1="53.25" y1="592.51" x2="83.75" y2="592.51" stroke="#1a1a1a" stroke-width="0.7"/>
<text x="69.00" y="605.37" font-size="8.7" text-anchor="middle" fill="#111" stroke="#111" stroke-width="0.1">C6AA</text>
<line x1="53.25" y1="612.00" x2="83.75" y2="612.00" stroke="#1a1a1a" stroke-width="0.7"/>
<text x="69.00" y="626.37" font-size="8.7" text-anchor="middle" fill="#111" stroke="#111" stroke-width="0.1">C6B</text>
<line x1="53.25" y1="634.71" x2="83.75" y2="634.71" stroke="#1a1a1a" stroke-width="0.7"/>
<text x="69.00" y="649.12" font-size="8.7" text-anchor="middle" fill="#111" stroke="#111" stroke-width="0.1">C6C</text>
<line x1="35.75" y1="30.00" x2="35.75" y2="658.10" stroke="#1a1a1a" stroke-width="0.75"/>
<line x1="53.25" y1="54.25" x2="53.25" y2="658.10" stroke="#1a1a1a" stroke-width="0.75"/>
<line x1="83.75" y1="6.40" x2="83.75" y2="658.10" stroke="#1a1a1a" stroke-width="0.75"/>
<line x1="113.75" y1="43.75" x2="113.75" y2="54.25" stroke="#1a1a1a" stroke-width="0.75"/>
<line x1="113.75" y1="65.75" x2="113.75" y2="647.70" stroke="#1a1a1a" stroke-width="0.75"/>
<line x1="163.00" y1="6.40" x2="163.00" y2="54.25" stroke="#1a1a1a" stroke-width="0.75"/>
<line x1="163.00" y1="65.75" x2="163.00" y2="658.10" stroke="#1a1a1a" stroke-width="0.75"/>
<line x1="192.90" y1="6.40" x2="192.90" y2="658.10" stroke="#1a1a1a" stroke-width="0.75"/>
<line x1="194.80" y1="6.40" x2="194.80" y2="658.10" stroke="#1a1a1a" stroke-width="0.75"/>
<line x1="224.75" y1="26.00" x2="224.75" y2="54.25" stroke="#1a1a1a" stroke-width="0.75"/>
<line x1="224.75" y1="69.25" x2="224.75" y2="658.10" stroke="#1a1a1a" stroke-width="0.75"/>
<line x1="254.65" y1="6.40" x2="254.65" y2="658.10" stroke="#1a1a1a" stroke-width="0.75"/>
<line x1="284.50" y1="26.00" x2="284.50" y2="658.10" stroke="#1a1a1a" stroke-width="0.75"/>
<line x1="314.50" y1="26.00" x2="314.50" y2="54.25" stroke="#1a1a1a" stroke-width="0.75"/>
<line x1="314.50" y1="65.50" x2="314.50" y2="658.10" stroke="#1a1a1a" stroke-width="0.75"/>
<line x1="344.50" y1="26.00" x2="344.50" y2="658.10" stroke="#1a1a1a" stroke-width="0.75"/>
<line x1="374.50" y1="26.00" x2="374.50" y2="658.10" stroke="#1a1a1a" stroke-width="0.75"/>
<line x1="404.50" y1="26.00" x2="404.50" y2="658.10" stroke="#1a1a1a" stroke-width="0.75"/>
<line x1="434.60" y1="26.00" x2="434.60" y2="658.10" stroke="#1a1a1a" stroke-width="0.75"/>
<line x1="464.50" y1="26.00" x2="464.50" y2="658.10" stroke="#1a1a1a" stroke-width="0.75"/>
<line x1="494.35" y1="6.40" x2="494.35" y2="658.10" stroke="#1a1a1a" stroke-width="0.75"/>
<line x1="523.75" y1="26.00" x2="523.75" y2="658.10" stroke="#1a1a1a" stroke-width="0.75"/>
<line x1="553.50" y1="26.00" x2="553.50" y2="658.10" stroke="#1a1a1a" stroke-width="0.75"/>
<line x1="583.25" y1="6.40" x2="583.25" y2="658.10" stroke="#1a1a1a" stroke-width="0.75"/>
<line x1="613.25" y1="26.00" x2="613.25" y2="658.10" stroke="#1a1a1a" stroke-width="0.75"/>
<line x1="643.00" y1="26.00" x2="643.00" y2="658.10" stroke="#1a1a1a" stroke-width="0.75"/>
<line x1="673.00" y1="26.00" x2="673.00" y2="658.10" stroke="#1a1a1a" stroke-width="0.75"/>
<line x1="703.00" y1="6.40" x2="703.00" y2="658.10" stroke="#1a1a1a" stroke-width="0.75"/>
<line x1="733.00" y1="26.00" x2="733.00" y2="658.10" stroke="#1a1a1a" stroke-width="0.75"/>
<line x1="763.25" y1="26.00" x2="763.25" y2="658.10" stroke="#1a1a1a" stroke-width="0.75"/>
<line x1="793.25" y1="26.00" x2="793.25" y2="658.10" stroke="#1a1a1a" stroke-width="0.75"/>
<line x1="823.00" y1="26.00" x2="823.00" y2="54.25" stroke="#1a1a1a" stroke-width="0.75"/>
<line x1="823.00" y1="65.50" x2="823.00" y2="658.10" stroke="#1a1a1a" stroke-width="0.75"/>
<line x1="852.75" y1="26.00" x2="852.75" y2="658.10" stroke="#1a1a1a" stroke-width="0.75"/>
<line x1="882.75" y1="26.00" x2="882.75" y2="658.10" stroke="#1a1a1a" stroke-width="0.75"/>
<line x1="912.25" y1="26.00" x2="912.25" y2="658.10" stroke="#1a1a1a" stroke-width="0.75"/>
<line x1="942.00" y1="26.00" x2="942.00" y2="658.10" stroke="#1a1a1a" stroke-width="0.75"/>
<line x1="5.60" y1="54.25" x2="972.50" y2="54.25" stroke="#1a1a1a" stroke-width="0.75"/>
<line x1="194.80" y1="69.25" x2="254.65" y2="69.25" stroke="#1a1a1a" stroke-width="0.75"/>
<line x1="194.80" y1="110.50" x2="224.75" y2="110.50" stroke="#1a1a1a" stroke-width="0.65"/>
<line x1="194.80" y1="276.75" x2="224.75" y2="276.75" stroke="#1a1a1a" stroke-width="0.65"/>
<line x1="194.80" y1="446.00" x2="224.75" y2="446.00" stroke="#1a1a1a" stroke-width="0.65"/>
<line x1="195.30" y1="634.70" x2="224.75" y2="634.70" stroke="#8c8c88" stroke-width="1.4" stroke-dasharray="5 4"/>
<path d="M224.75,156.00 q0.93,-0.84 1.87,0 t1.87,0 q0.93,-0.84 1.87,0 t1.87,0 q0.93,-0.84 1.87,0 t1.87,0 q0.93,-0.84 1.87,0 t1.87,0 q0.93,-0.84 1.87,0 t1.87,0 q0.93,-0.84 1.87,0 t1.87,0 q0.93,-0.84 1.87,0 t1.87,0 q0.93,-0.84 1.87,0 t1.87,0" fill="none" stroke="#222" stroke-width="0.85"/>
<path d="M254.65,191.00 q0.93,-0.84 1.87,0 t1.87,0 q0.93,-0.84 1.87,0 t1.87,0 q0.93,-0.84 1.87,0 t1.87,0 q0.93,-0.84 1.87,0 t1.87,0 q0.93,-0.84 1.87,0 t1.87,0 q0.93,-0.84 1.87,0 t1.87,0 q0.93,-0.84 1.87,0 t1.87,0 q0.93,-0.84 1.87,0 t1.87,0" fill="none" stroke="#222" stroke-width="0.85"/>
<path d="M254.65,249.00 q0.93,-0.84 1.87,0 t1.87,0 q0.93,-0.84 1.87,0 t1.87,0 q0.93,-0.84 1.87,0 t1.87,0 q0.93,-0.84 1.87,0 t1.87,0 q0.93,-0.84 1.87,0 t1.87,0 q0.93,-0.84 1.87,0 t1.87,0 q0.93,-0.84 1.87,0 t1.87,0 q0.93,-0.84 1.87,0 t1.87,0" fill="none" stroke="#222" stroke-width="0.85"/>
<path d="M254.65,574.50 q0.93,-0.84 1.87,0 t1.87,0 q0.93,-0.84 1.87,0 t1.87,0 q0.93,-0.84 1.87,0 t1.87,0 q0.93,-0.84 1.87,0 t1.87,0 q0.93,-0.84 1.87,0 t1.87,0 q0.93,-0.84 1.87,0 t1.87,0 q0.93,-0.84 1.87,0 t1.87,0 q0.93,-0.84 1.87,0 t1.87,0" fill="none" stroke="#222" stroke-width="0.85"/>
<path d="M284.50,65.30 q0.94,-0.84 1.88,0 t1.88,0 q0.94,-0.84 1.88,0 t1.88,0 q0.94,-0.84 1.88,0 t1.88,0 q0.94,-0.84 1.88,0 t1.88,0 q0.94,-0.84 1.88,0 t1.88,0 q0.94,-0.84 1.88,0 t1.88,0 q0.94,-0.84 1.88,0 t1.88,0 q0.94,-0.84 1.88,0 t1.88,0" fill="none" stroke="#222" stroke-width="0.85"/>
<line x1="285.00" y1="144.00" x2="314.50" y2="144.00" stroke="#333" stroke-width="0.9" stroke-dasharray="5.5 3"/>
<line x1="285.00" y1="332.75" x2="314.50" y2="332.75" stroke="#222" stroke-width="0.7" stroke-dasharray="5.5 3.5"/>
<path d="M314.50,65.30 q0.94,-0.84 1.88,0 t1.88,0 q0.94,-0.84 1.88,0 t1.88,0 q0.94,-0.84 1.88,0 t1.88,0 q0.94,-0.84 1.88,0 t1.88,0 q0.94,-0.84 1.88,0 t1.88,0 q0.94,-0.84 1.88,0 t1.88,0 q0.94,-0.84 1.88,0 t1.88,0 q0.94,-0.84 1.88,0 t1.88,0" fill="none" stroke="#222" stroke-width="0.85"/>
<line x1="314.50" y1="273.00" x2="344.50" y2="273.00" stroke="#1a1a1a" stroke-width="0.65"/>
<line x1="314.50" y1="395.50" x2="344.50" y2="395.50" stroke="#1a1a1a" stroke-width="0.65"/>
<path d="M314.50,495.25 q0.94,-0.84 1.88,0 t1.88,0 q0.94,-0.84 1.88,0 t1.88,0 q0.94,-0.84 1.88,0 t1.88,0 q0.94,-0.84 1.88,0 t1.88,0 q0.94,-0.84 1.88,0 t1.88,0 q0.94,-0.84 1.88,0 t1.88,0 q0.94,-0.84 1.88,0 t1.88,0 q0.94,-0.84 1.88,0 t1.88,0" fill="none" stroke="#222" stroke-width="0.85"/>
<path d="M344.50,65.30 q0.94,-0.84 1.88,0 t1.88,0 q0.94,-0.84 1.88,0 t1.88,0 q0.94,-0.84 1.88,0 t1.88,0 q0.94,-0.84 1.88,0 t1.88,0 q0.94,-0.84 1.88,0 t1.88,0 q0.94,-0.84 1.88,0 t1.88,0 q0.94,-0.84 1.88,0 t1.88,0 q0.94,-0.84 1.88,0 t1.88,0" fill="none" stroke="#222" stroke-width="0.85"/>
<line x1="344.50" y1="228.00" x2="374.50" y2="228.00" stroke="#1a1a1a" stroke-width="0.65"/>
<line x1="344.50" y1="345.50" x2="374.50" y2="345.50" stroke="#1a1a1a" stroke-width="0.65"/>
<line x1="374.50" y1="112.30" x2="404.50" y2="112.30" stroke="#1a1a1a" stroke-width="0.65"/>
<path d="M374.50,132.00 q0.94,-0.84 1.88,0 t1.88,0 q0.94,-0.84 1.88,0 t1.88,0 q0.94,-0.84 1.88,0 t1.88,0 q0.94,-0.84 1.88,0 t1.88,0 q0.94,-0.84 1.88,0 t1.88,0 q0.94,-0.84 1.88,0 t1.88,0 q0.94,-0.84 1.88,0 t1.88,0 q0.94,-0.84 1.88,0 t1.88,0" fill="none" stroke="#222" stroke-width="0.85"/>
<path d="M404.50,128.00 q0.94,-0.84 1.88,0 t1.88,0 q0.94,-0.84 1.88,0 t1.88,0 q0.94,-0.84 1.88,0 t1.88,0 q0.94,-0.84 1.88,0 t1.88,0 q0.94,-0.84 1.88,0 t1.88,0 q0.94,-0.84 1.88,0 t1.88,0 q0.94,-0.84 1.88,0 t1.88,0 q0.94,-0.84 1.88,0 t1.88,0" fill="none" stroke="#222" stroke-width="0.85"/>
<line x1="404.50" y1="192.00" x2="434.60" y2="192.00" stroke="#1a1a1a" stroke-width="0.65"/>
<line x1="404.50" y1="469.75" x2="434.60" y2="469.75" stroke="#1a1a1a" stroke-width="0.65"/>
<line x1="404.50" y1="559.50" x2="434.60" y2="559.50" stroke="#1a1a1a" stroke-width="0.65"/>
<line x1="434.60" y1="65.50" x2="464.50" y2="65.50" stroke="#1a1a1a" stroke-width="0.65"/>
<line x1="434.60" y1="108.50" x2="464.50" y2="108.50" stroke="#1a1a1a" stroke-width="0.65"/>
<line x1="434.60" y1="144.25" x2="464.50" y2="144.25" stroke="#1a1a1a" stroke-width="0.65"/>
<line x1="434.60" y1="321.75" x2="464.50" y2="321.75" stroke="#1a1a1a" stroke-width="0.65"/>
<line x1="434.60" y1="354.60" x2="464.50" y2="354.60" stroke="#1a1a1a" stroke-width="0.65"/>
<line x1="434.60" y1="480.50" x2="464.50" y2="480.50" stroke="#1a1a1a" stroke-width="0.65"/>
<line x1="434.60" y1="647.25" x2="464.50" y2="647.25" stroke="#1a1a1a" stroke-width="0.65"/>
<line x1="465.00" y1="65.50" x2="494.35" y2="65.50" stroke="#8c8c88" stroke-width="1.4" stroke-dasharray="5 4"/>
<line x1="464.50" y1="144.10" x2="494.35" y2="144.10" stroke="#1a1a1a" stroke-width="0.65"/>
<line x1="464.50" y1="304.40" x2="494.35" y2="304.40" stroke="#1a1a1a" stroke-width="0.65"/>
<line x1="464.50" y1="432.70" x2="494.35" y2="432.70" stroke="#1a1a1a" stroke-width="0.65"/>
<line x1="464.50" y1="560.20" x2="494.35" y2="560.20" stroke="#1a1a1a" stroke-width="0.65"/>
<line x1="464.50" y1="589.40" x2="494.35" y2="589.40" stroke="#1a1a1a" stroke-width="0.65"/>
<line x1="464.50" y1="617.70" x2="494.35" y2="617.70" stroke="#1a1a1a" stroke-width="0.65"/>
<line x1="464.50" y1="647.25" x2="494.35" y2="647.25" stroke="#1a1a1a" stroke-width="0.65"/>
<path d="M494.35,332.70 q0.92,-0.84 1.84,0 t1.84,0 q0.92,-0.84 1.84,0 t1.84,0 q0.92,-0.84 1.84,0 t1.84,0 q0.92,-0.84 1.84,0 t1.84,0 q0.92,-0.84 1.84,0 t1.84,0 q0.92,-0.84 1.84,0 t1.84,0 q0.92,-0.84 1.84,0 t1.84,0 q0.92,-0.84 1.84,0 t1.84,0" fill="none" stroke="#222" stroke-width="0.85"/>
<path d="M523.75,197.75 q0.93,-0.84 1.86,0 t1.86,0 q0.93,-0.84 1.86,0 t1.86,0 q0.93,-0.84 1.86,0 t1.86,0 q0.93,-0.84 1.86,0 t1.86,0 q0.93,-0.84 1.86,0 t1.86,0 q0.93,-0.84 1.86,0 t1.86,0 q0.93,-0.84 1.86,0 t1.86,0 q0.93,-0.84 1.86,0 t1.86,0" fill="none" stroke="#222" stroke-width="0.85"/>
<path d="M523.75,322.25 q0.93,-0.84 1.86,0 t1.86,0 q0.93,-0.84 1.86,0 t1.86,0 q0.93,-0.84 1.86,0 t1.86,0 q0.93,-0.84 1.86,0 t1.86,0 q0.93,-0.84 1.86,0 t1.86,0 q0.93,-0.84 1.86,0 t1.86,0 q0.93,-0.84 1.86,0 t1.86,0 q0.93,-0.84 1.86,0 t1.86,0" fill="none" stroke="#222" stroke-width="0.85"/>
<path d="M553.50,65.30 q0.93,-0.84 1.86,0 t1.86,0 q0.93,-0.84 1.86,0 t1.86,0 q0.93,-0.84 1.86,0 t1.86,0 q0.93,-0.84 1.86,0 t1.86,0 q0.93,-0.84 1.86,0 t1.86,0 q0.93,-0.84 1.86,0 t1.86,0 q0.93,-0.84 1.86,0 t1.86,0 q0.93,-0.84 1.86,0 t1.86,0" fill="none" stroke="#222" stroke-width="0.85"/>
<path d="M553.50,144.20 q0.93,-0.84 1.86,0 t1.86,0 q0.93,-0.84 1.86,0 t1.86,0 q0.93,-0.84 1.86,0 t1.86,0 q0.93,-0.84 1.86,0 t1.86,0 q0.93,-0.84 1.86,0 t1.86,0 q0.93,-0.84 1.86,0 t1.86,0 q0.93,-0.84 1.86,0 t1.86,0 q0.93,-0.84 1.86,0 t1.86,0" fill="none" stroke="#222" stroke-width="0.85"/>
<path d="M553.50,419.00 q0.93,-0.84 1.86,0 t1.86,0 q0.93,-0.84 1.86,0 t1.86,0 q0.93,-0.84 1.86,0 t1.86,0 q0.93,-0.84 1.86,0 t1.86,0 q0.93,-0.84 1.86,0 t1.86,0 q0.93,-0.84 1.86,0 t1.86,0 q0.93,-0.84 1.86,0 t1.86,0 q0.93,-0.84 1.86,0 t1.86,0" fill="none" stroke="#222" stroke-width="0.85"/>
<path d="M553.50,647.60 q0.93,-0.84 1.86,0 t1.86,0 q0.93,-0.84 1.86,0 t1.86,0 q0.93,-0.84 1.86,0 t1.86,0 q0.93,-0.84 1.86,0 t1.86,0 q0.93,-0.84 1.86,0 t1.86,0 q0.93,-0.84 1.86,0 t1.86,0 q0.93,-0.84 1.86,0 t1.86,0 q0.93,-0.84 1.86,0 t1.86,0" fill="none" stroke="#222" stroke-width="0.85"/>
<path d="M583.25,65.30 q0.94,-0.84 1.88,0 t1.88,0 q0.94,-0.84 1.88,0 t1.88,0 q0.94,-0.84 1.88,0 t1.88,0 q0.94,-0.84 1.88,0 t1.88,0 q0.94,-0.84 1.88,0 t1.88,0 q0.94,-0.84 1.88,0 t1.88,0 q0.94,-0.84 1.88,0 t1.88,0 q0.94,-0.84 1.88,0 t1.88,0" fill="none" stroke="#222" stroke-width="0.85"/>
<path d="M583.25,144.20 q0.94,-0.84 1.88,0 t1.88,0 q0.94,-0.84 1.88,0 t1.88,0 q0.94,-0.84 1.88,0 t1.88,0 q0.94,-0.84 1.88,0 t1.88,0 q0.94,-0.84 1.88,0 t1.88,0 q0.94,-0.84 1.88,0 t1.88,0 q0.94,-0.84 1.88,0 t1.88,0 q0.94,-0.84 1.88,0 t1.88,0" fill="none" stroke="#222" stroke-width="0.85"/>
<line x1="613.25" y1="65.30" x2="643.00" y2="65.30" stroke="#fff" stroke-width="1.0"/>
<line x1="613.75" y1="65.30" x2="643.00" y2="65.30" stroke="#333" stroke-width="0.9" stroke-dasharray="5.5 3"/>
<line x1="613.75" y1="276.40" x2="643.00" y2="276.40" stroke="#333" stroke-width="0.9" stroke-dasharray="5.5 3"/>
<line x1="613.25" y1="322.25" x2="643.00" y2="322.25" stroke="#1a1a1a" stroke-width="0.65"/>
<path d="M613.25,396.00 q0.93,-0.84 1.86,0 t1.86,0 q0.93,-0.84 1.86,0 t1.86,0 q0.93,-0.84 1.86,0 t1.86,0 q0.93,-0.84 1.86,0 t1.86,0 q0.93,-0.84 1.86,0 t1.86,0 q0.93,-0.84 1.86,0 t1.86,0 q0.93,-0.84 1.86,0 t1.86,0 q0.93,-0.84 1.86,0 t1.86,0" fill="none" stroke="#222" stroke-width="0.85"/>
<path d="M643.00,134.50 q0.94,-0.84 1.88,0 t1.88,0 q0.94,-0.84 1.88,0 t1.88,0 q0.94,-0.84 1.88,0 t1.88,0 q0.94,-0.84 1.88,0 t1.88,0 q0.94,-0.84 1.88,0 t1.88,0 q0.94,-0.84 1.88,0 t1.88,0 q0.94,-0.84 1.88,0 t1.88,0 q0.94,-0.84 1.88,0 t1.88,0" fill="none" stroke="#222" stroke-width="0.85"/>
<line x1="643.00" y1="156.25" x2="673.00" y2="156.25" stroke="#1a1a1a" stroke-width="0.65"/>
<path d="M643.00,209.25 q0.94,-0.84 1.88,0 t1.88,0 q0.94,-0.84 1.88,0 t1.88,0 q0.94,-0.84 1.88,0 t1.88,0 q0.94,-0.84 1.88,0 t1.88,0 q0.94,-0.84 1.88,0 t1.88,0 q0.94,-0.84 1.88,0 t1.88,0 q0.94,-0.84 1.88,0 t1.88,0 q0.94,-0.84 1.88,0 t1.88,0" fill="none" stroke="#222" stroke-width="0.85"/>
<line x1="673.00" y1="65.30" x2="703.00" y2="65.30" stroke="#fff" stroke-width="1.0"/>
<line x1="673.50" y1="65.30" x2="703.00" y2="65.30" stroke="#333" stroke-width="0.9" stroke-dasharray="5.5 3"/>
<path d="M673.00,132.00 q0.94,-0.84 1.88,0 t1.88,0 q0.94,-0.84 1.88,0 t1.88,0 q0.94,-0.84 1.88,0 t1.88,0 q0.94,-0.84 1.88,0 t1.88,0 q0.94,-0.84 1.88,0 t1.88,0 q0.94,-0.84 1.88,0 t1.88,0 q0.94,-0.84 1.88,0 t1.88,0 q0.94,-0.84 1.88,0 t1.88,0" fill="none" stroke="#222" stroke-width="0.85"/>
<path d="M673.00,197.75 q0.94,-0.84 1.88,0 t1.88,0 q0.94,-0.84 1.88,0 t1.88,0 q0.94,-0.84 1.88,0 t1.88,0 q0.94,-0.84 1.88,0 t1.88,0 q0.94,-0.84 1.88,0 t1.88,0 q0.94,-0.84 1.88,0 t1.88,0 q0.94,-0.84 1.88,0 t1.88,0 q0.94,-0.84 1.88,0 t1.88,0" fill="none" stroke="#222" stroke-width="0.85"/>
<path d="M673.00,226.50 q0.94,-0.84 1.88,0 t1.88,0 q0.94,-0.84 1.88,0 t1.88,0 q0.94,-0.84 1.88,0 t1.88,0 q0.94,-0.84 1.88,0 t1.88,0 q0.94,-0.84 1.88,0 t1.88,0 q0.94,-0.84 1.88,0 t1.88,0 q0.94,-0.84 1.88,0 t1.88,0 q0.94,-0.84 1.88,0 t1.88,0" fill="none" stroke="#222" stroke-width="0.85"/>
<line x1="703.00" y1="65.50" x2="733.00" y2="65.50" stroke="#1a1a1a" stroke-width="0.65"/>
<line x1="703.00" y1="95.25" x2="733.00" y2="95.25" stroke="#1a1a1a" stroke-width="0.65"/>
<path d="M703.00,198.25 q0.94,-0.84 1.88,0 t1.88,0 q0.94,-0.84 1.88,0 t1.88,0 q0.94,-0.84 1.88,0 t1.88,0 q0.94,-0.84 1.88,0 t1.88,0 q0.94,-0.84 1.88,0 t1.88,0 q0.94,-0.84 1.88,0 t1.88,0 q0.94,-0.84 1.88,0 t1.88,0 q0.94,-0.84 1.88,0 t1.88,0" fill="none" stroke="#222" stroke-width="0.85"/>
<path d="M733.00,420.20 q0.95,-0.84 1.89,0 t1.89,0 q0.95,-0.84 1.89,0 t1.89,0 q0.95,-0.84 1.89,0 t1.89,0 q0.95,-0.84 1.89,0 t1.89,0 q0.95,-0.84 1.89,0 t1.89,0 q0.95,-0.84 1.89,0 t1.89,0 q0.95,-0.84 1.89,0 t1.89,0 q0.95,-0.84 1.89,0 t1.89,0" fill="none" stroke="#222" stroke-width="0.85"/>
<path d="M763.25,65.50 q0.94,-0.84 1.88,0 t1.88,0 q0.94,-0.84 1.88,0 t1.88,0 q0.94,-0.84 1.88,0 t1.88,0 q0.94,-0.84 1.88,0 t1.88,0 q0.94,-0.84 1.88,0 t1.88,0 q0.94,-0.84 1.88,0 t1.88,0 q0.94,-0.84 1.88,0 t1.88,0 q0.94,-0.84 1.88,0 t1.88,0" fill="none" stroke="#222" stroke-width="0.85"/>
<line x1="763.25" y1="144.00" x2="793.25" y2="144.00" stroke="#1a1a1a" stroke-width="0.65"/>
<path d="M763.25,420.20 q0.94,-0.84 1.88,0 t1.88,0 q0.94,-0.84 1.88,0 t1.88,0 q0.94,-0.84 1.88,0 t1.88,0 q0.94,-0.84 1.88,0 t1.88,0 q0.94,-0.84 1.88,0 t1.88,0 q0.94,-0.84 1.88,0 t1.88,0 q0.94,-0.84 1.88,0 t1.88,0 q0.94,-0.84 1.88,0 t1.88,0" fill="none" stroke="#222" stroke-width="0.85"/>
<path d="M793.25,65.50 q0.93,-0.84 1.86,0 t1.86,0 q0.93,-0.84 1.86,0 t1.86,0 q0.93,-0.84 1.86,0 t1.86,0 q0.93,-0.84 1.86,0 t1.86,0 q0.93,-0.84 1.86,0 t1.86,0 q0.93,-0.84 1.86,0 t1.86,0 q0.93,-0.84 1.86,0 t1.86,0 q0.93,-0.84 1.86,0 t1.86,0" fill="none" stroke="#222" stroke-width="0.85"/>
<path d="M793.25,82.25 q0.93,-0.84 1.86,0 t1.86,0 q0.93,-0.84 1.86,0 t1.86,0 q0.93,-0.84 1.86,0 t1.86,0 q0.93,-0.84 1.86,0 t1.86,0 q0.93,-0.84 1.86,0 t1.86,0 q0.93,-0.84 1.86,0 t1.86,0 q0.93,-0.84 1.86,0 t1.86,0 q0.93,-0.84 1.86,0 t1.86,0" fill="none" stroke="#222" stroke-width="0.85"/>
<path d="M793.25,200.25 q0.93,-0.84 1.86,0 t1.86,0 q0.93,-0.84 1.86,0 t1.86,0 q0.93,-0.84 1.86,0 t1.86,0 q0.93,-0.84 1.86,0 t1.86,0 q0.93,-0.84 1.86,0 t1.86,0 q0.93,-0.84 1.86,0 t1.86,0 q0.93,-0.84 1.86,0 t1.86,0 q0.93,-0.84 1.86,0 t1.86,0" fill="none" stroke="#222" stroke-width="0.85"/>
<path d="M823.00,65.50 q0.93,-0.84 1.86,0 t1.86,0 q0.93,-0.84 1.86,0 t1.86,0 q0.93,-0.84 1.86,0 t1.86,0 q0.93,-0.84 1.86,0 t1.86,0 q0.93,-0.84 1.86,0 t1.86,0 q0.93,-0.84 1.86,0 t1.86,0 q0.93,-0.84 1.86,0 t1.86,0 q0.93,-0.84 1.86,0 t1.86,0" fill="none" stroke="#222" stroke-width="0.85"/>
<path d="M823.00,144.00 q0.93,-0.84 1.86,0 t1.86,0 q0.93,-0.84 1.86,0 t1.86,0 q0.93,-0.84 1.86,0 t1.86,0 q0.93,-0.84 1.86,0 t1.86,0 q0.93,-0.84 1.86,0 t1.86,0 q0.93,-0.84 1.86,0 t1.86,0 q0.93,-0.84 1.86,0 t1.86,0 q0.93,-0.84 1.86,0 t1.86,0" fill="none" stroke="#222" stroke-width="0.85"/>
<path d="M823.00,322.25 q0.93,-0.84 1.86,0 t1.86,0 q0.93,-0.84 1.86,0 t1.86,0 q0.93,-0.84 1.86,0 t1.86,0 q0.93,-0.84 1.86,0 t1.86,0 q0.93,-0.84 1.86,0 t1.86,0 q0.93,-0.84 1.86,0 t1.86,0 q0.93,-0.84 1.86,0 t1.86,0 q0.93,-0.84 1.86,0 t1.86,0" fill="none" stroke="#222" stroke-width="0.85"/>
<path d="M852.75,65.50 q0.94,-0.84 1.88,0 t1.88,0 q0.94,-0.84 1.88,0 t1.88,0 q0.94,-0.84 1.88,0 t1.88,0 q0.94,-0.84 1.88,0 t1.88,0 q0.94,-0.84 1.88,0 t1.88,0 q0.94,-0.84 1.88,0 t1.88,0 q0.94,-0.84 1.88,0 t1.88,0 q0.94,-0.84 1.88,0 t1.88,0" fill="none" stroke="#222" stroke-width="0.85"/>
<line x1="852.75" y1="144.00" x2="882.75" y2="144.00" stroke="#1a1a1a" stroke-width="0.65"/>
<path d="M852.75,220.00 q0.94,-0.84 1.88,0 t1.88,0 q0.94,-0.84 1.88,0 t1.88,0 q0.94,-0.84 1.88,0 t1.88,0 q0.94,-0.84 1.88,0 t1.88,0 q0.94,-0.84 1.88,0 t1.88,0 q0.94,-0.84 1.88,0 t1.88,0 q0.94,-0.84 1.88,0 t1.88,0 q0.94,-0.84 1.88,0 t1.88,0" fill="none" stroke="#222" stroke-width="0.85"/>
<path d="M852.75,420.20 q0.94,-0.84 1.88,0 t1.88,0 q0.94,-0.84 1.88,0 t1.88,0 q0.94,-0.84 1.88,0 t1.88,0 q0.94,-0.84 1.88,0 t1.88,0 q0.94,-0.84 1.88,0 t1.88,0 q0.94,-0.84 1.88,0 t1.88,0 q0.94,-0.84 1.88,0 t1.88,0 q0.94,-0.84 1.88,0 t1.88,0" fill="none" stroke="#222" stroke-width="0.85"/>
<path d="M852.75,526.25 q0.94,-0.84 1.88,0 t1.88,0 q0.94,-0.84 1.88,0 t1.88,0 q0.94,-0.84 1.88,0 t1.88,0 q0.94,-0.84 1.88,0 t1.88,0 q0.94,-0.84 1.88,0 t1.88,0 q0.94,-0.84 1.88,0 t1.88,0 q0.94,-0.84 1.88,0 t1.88,0 q0.94,-0.84 1.88,0 t1.88,0" fill="none" stroke="#222" stroke-width="0.85"/>
<path d="M852.75,634.50 q0.94,-0.84 1.88,0 t1.88,0 q0.94,-0.84 1.88,0 t1.88,0 q0.94,-0.84 1.88,0 t1.88,0 q0.94,-0.84 1.88,0 t1.88,0 q0.94,-0.84 1.88,0 t1.88,0 q0.94,-0.84 1.88,0 t1.88,0 q0.94,-0.84 1.88,0 t1.88,0 q0.94,-0.84 1.88,0 t1.88,0" fill="none" stroke="#222" stroke-width="0.85"/>
<line x1="882.75" y1="65.50" x2="912.25" y2="65.50" stroke="#1a1a1a" stroke-width="0.65"/>
<line x1="882.75" y1="90.50" x2="912.25" y2="90.50" stroke="#1a1a1a" stroke-width="0.65"/>
<line x1="882.75" y1="248.50" x2="912.25" y2="248.50" stroke="#1a1a1a" stroke-width="0.65"/>
<line x1="882.75" y1="316.75" x2="912.25" y2="316.75" stroke="#1a1a1a" stroke-width="0.65"/>
<line x1="882.75" y1="390.50" x2="912.25" y2="390.50" stroke="#1a1a1a" stroke-width="0.65"/>
<line x1="882.75" y1="504.75" x2="912.25" y2="504.75" stroke="#1a1a1a" stroke-width="0.65"/>
<line x1="912.25" y1="169.40" x2="942.00" y2="169.40" stroke="#1a1a1a" stroke-width="0.65"/>
<line x1="912.25" y1="311.60" x2="942.00" y2="311.60" stroke="#1a1a1a" stroke-width="0.65"/>
<line x1="912.25" y1="538.50" x2="942.00" y2="538.50" stroke="#1a1a1a" stroke-width="0.65"/>
<path d="M942.00,219.80 q0.95,-0.84 1.91,0 t1.91,0 q0.95,-0.84 1.91,0 t1.91,0 q0.95,-0.84 1.91,0 t1.91,0 q0.95,-0.84 1.91,0 t1.91,0 q0.95,-0.84 1.91,0 t1.91,0 q0.95,-0.84 1.91,0 t1.91,0 q0.95,-0.84 1.91,0 t1.91,0 q0.95,-0.84 1.91,0 t1.91,0" fill="none" stroke="#222" stroke-width="0.85"/>
<path d="M942.00,264.80 q0.95,-0.84 1.91,0 t1.91,0 q0.95,-0.84 1.91,0 t1.91,0 q0.95,-0.84 1.91,0 t1.91,0 q0.95,-0.84 1.91,0 t1.91,0 q0.95,-0.84 1.91,0 t1.91,0 q0.95,-0.84 1.91,0 t1.91,0 q0.95,-0.84 1.91,0 t1.91,0 q0.95,-0.84 1.91,0 t1.91,0" fill="none" stroke="#222" stroke-width="0.85"/>
<path d="M942.00,322.25 q0.95,-0.84 1.91,0 t1.91,0 q0.95,-0.84 1.91,0 t1.91,0 q0.95,-0.84 1.91,0 t1.91,0 q0.95,-0.84 1.91,0 t1.91,0 q0.95,-0.84 1.91,0 t1.91,0 q0.95,-0.84 1.91,0 t1.91,0 q0.95,-0.84 1.91,0 t1.91,0 q0.95,-0.84 1.91,0 t1.91,0" fill="none" stroke="#222" stroke-width="0.85"/>
<line x1="83.75" y1="65.75" x2="127.00" y2="65.75" stroke="#1a1a1a" stroke-width="0.5"/>
<line x1="147.50" y1="65.75" x2="192.90" y2="65.75" stroke="#1a1a1a" stroke-width="0.65"/>
<text x="136.60" y="68.29" font-size="8.3" text-anchor="middle" fill="#111" stroke="#111" stroke-width="0.1">2.59</text>
<line x1="98.75" y1="95.75" x2="125.30" y2="95.75" stroke="#1a1a1a" stroke-width="0.65"/>
<line x1="147.90" y1="95.75" x2="192.90" y2="95.75" stroke="#1a1a1a" stroke-width="0.65"/>
<text x="136.60" y="98.94" font-size="8.3" text-anchor="middle" fill="#111" stroke="#111" stroke-width="0.1">3.60</text>
<line x1="113.75" y1="144.25" x2="125.30" y2="144.25" stroke="#1a1a1a" stroke-width="0.65"/>
<line x1="147.90" y1="144.25" x2="163.00" y2="144.25" stroke="#1a1a1a" stroke-width="0.65"/>
<text x="136.60" y="147.44" font-size="8.3" text-anchor="middle" fill="#111" stroke="#111" stroke-width="0.1">5.33</text>
<line x1="163.00" y1="144.25" x2="170.80" y2="144.25" stroke="#1a1a1a" stroke-width="0.65"/>
<line x1="184.80" y1="144.25" x2="192.90" y2="144.25" stroke="#1a1a1a" stroke-width="0.65"/>
<text x="177.80" y="146.84" font-size="8.3" text-anchor="middle" fill="#111" stroke="#111" stroke-width="0.1">5.3</text>
<line x1="113.75" y1="198.20" x2="125.30" y2="198.20" stroke="#1a1a1a" stroke-width="0.65"/>
<line x1="147.90" y1="198.20" x2="163.00" y2="198.20" stroke="#1a1a1a" stroke-width="0.65"/>
<text x="136.60" y="201.39" font-size="8.3" text-anchor="middle" fill="#111" stroke="#111" stroke-width="0.1">7.25</text>
<line x1="163.00" y1="198.20" x2="169.50" y2="198.20" stroke="#1a1a1a" stroke-width="0.65"/>
<line x1="186.10" y1="198.20" x2="192.90" y2="198.20" stroke="#1a1a1a" stroke-width="0.65"/>
<text x="177.80" y="200.79" font-size="8.3" text-anchor="middle" fill="#111" stroke="#111" stroke-width="0.1">7.25</text>
<line x1="98.75" y1="322.25" x2="124.40" y2="322.25" stroke="#1a1a1a" stroke-width="0.65"/>
<line x1="151.60" y1="322.25" x2="163.00" y2="322.25" stroke="#1a1a1a" stroke-width="0.65"/>
<text x="138.00" y="325.44" font-size="8.3" text-anchor="middle" fill="#111" stroke="#111" stroke-width="0.1">11.63</text>
<line x1="163.00" y1="322.25" x2="169.50" y2="322.25" stroke="#1a1a1a" stroke-width="0.65"/>
<line x1="186.10" y1="322.25" x2="192.90" y2="322.25" stroke="#1a1a1a" stroke-width="0.65"/>
<text x="177.80" y="324.84" font-size="8.3" text-anchor="middle" fill="#111" stroke="#111" stroke-width="0.1">11.6</text>
<line x1="113.75" y1="385.25" x2="124.40" y2="385.25" stroke="#1a1a1a" stroke-width="0.65"/>
<line x1="151.60" y1="385.25" x2="163.00" y2="385.25" stroke="#1a1a1a" stroke-width="0.65"/>
<text x="138.00" y="388.44" font-size="8.3" text-anchor="middle" fill="#111" stroke="#111" stroke-width="0.1">13.82</text>
<line x1="98.75" y1="445.75" x2="124.40" y2="445.75" stroke="#1a1a1a" stroke-width="0.65"/>
<line x1="151.60" y1="445.75" x2="163.00" y2="445.75" stroke="#1a1a1a" stroke-width="0.65"/>
<text x="138.00" y="448.94" font-size="8.3" text-anchor="middle" fill="#111" stroke="#111" stroke-width="0.1">15.97</text>
<line x1="163.00" y1="420.20" x2="192.90" y2="420.20" stroke="#1a1a1a" stroke-width="0.75"/>
<line x1="113.75" y1="573.75" x2="124.40" y2="573.75" stroke="#1a1a1a" stroke-width="0.65"/>
<line x1="151.60" y1="573.75" x2="163.00" y2="573.75" stroke="#1a1a1a" stroke-width="0.65"/>
<text x="138.00" y="576.94" font-size="8.3" text-anchor="middle" fill="#111" stroke="#111" stroke-width="0.1">20.44</text>
<line x1="163.00" y1="573.75" x2="169.50" y2="573.75" stroke="#1a1a1a" stroke-width="0.65"/>
<line x1="186.10" y1="573.75" x2="192.90" y2="573.75" stroke="#1a1a1a" stroke-width="0.65"/>
<text x="177.80" y="576.34" font-size="8.3" text-anchor="middle" fill="#111" stroke="#111" stroke-width="0.1">20.4</text>
<line x1="83.75" y1="647.70" x2="124.00" y2="647.70" stroke="#1a1a1a" stroke-width="0.75"/>
<line x1="151.00" y1="647.70" x2="192.90" y2="647.70" stroke="#1a1a1a" stroke-width="0.75"/>
<text x="138.00" y="649.89" font-size="8.3" text-anchor="middle" fill="#111" stroke="#111" stroke-width="0.1">23.03</text>
<rect x="5.6" y="6.4" width="966.9" height="651.7" fill="none" stroke="#1a1a1a" stroke-width="0.7"/>
<text x="46.00" y="21.90" font-size="9.1" text-anchor="middle" fill="#111" stroke="#111" stroke-width="0.1" letter-spacing="-0.25">ATNTS 2012</text>
<text x="123.70" y="21.90" font-size="9.1" text-anchor="middle" fill="#111" stroke="#111" stroke-width="0.1">Neogene System</text>
<text x="177.80" y="21.90" font-size="9.1" text-anchor="middle" fill="#111" stroke="#111" stroke-width="0.1">China</text>
<text x="224.60" y="21.90" font-size="9.1" text-anchor="middle" fill="#111" stroke="#111" stroke-width="0.1">South Xinjiang</text>
<text x="374.50" y="21.90" font-size="9.1" text-anchor="middle" fill="#111" stroke="#111" stroke-width="0.1">Qaidam-Qilian-West Qinling Stratigraphic Region</text>
<text x="539.70" y="21.90" font-size="9.1" text-anchor="middle" fill="#111" stroke="#111" stroke-width="0.1">Qiangtang Region</text>
<text x="643.10" y="21.90" font-size="9.1" text-anchor="middle" fill="#111" stroke="#111" stroke-width="0.1">West Yunnan-West Sichuan</text>
<text x="837.75" y="21.90" font-size="9.1" text-anchor="middle" fill="#111" stroke="#111" stroke-width="0.1">Gangdise-Himalaya-Siwalik Stratigraphic Region</text>
<text x="20.30" y="37.10" font-size="9.1" text-anchor="middle" fill="#111" stroke="#111" stroke-width="0.1">Date</text>
<text x="20.30" y="52.20" font-size="9.1" text-anchor="middle" fill="#111" stroke="#111" stroke-width="0.1">(Ma)</text>
<text x="59.60" y="37.10" font-size="9.1" text-anchor="middle" fill="#111" stroke="#111" stroke-width="0.1">Chron</text>
<text x="59.80" y="52.20" font-size="9.1" text-anchor="middle" fill="#111" stroke="#111" stroke-width="0.1">Zone</text>
<text x="98.70" y="37.10" font-size="9.1" text-anchor="middle" fill="#111" stroke="#111" stroke-width="0.1">Series</text>
<text x="98.60" y="52.20" font-size="9.1" text-anchor="middle" fill="#111" stroke="#111" stroke-width="0.1">Epoch</text>
<text x="137.60" y="37.10" font-size="9.1" text-anchor="middle" fill="#111" stroke="#111" stroke-width="0.1">2022</text>
<text x="138.60" y="52.20" font-size="9.1" text-anchor="middle" fill="#111" stroke="#111" stroke-width="0.1">Stage/Age</text>
<text x="177.80" y="37.10" font-size="9.1" text-anchor="middle" fill="#111" stroke="#111" stroke-width="0.1">Stage</text>
<text x="177.80" y="52.20" font-size="9.1" text-anchor="middle" fill="#111" stroke="#111" stroke-width="0.1">Age</text>
<text x="209.78" y="37.10" font-size="9.1" text-anchor="middle" fill="#111" stroke="#111" stroke-width="0.1">Tarim</text>
<text x="209.78" y="52.20" font-size="9.1" text-anchor="middle" fill="#111" stroke="#111" stroke-width="0.1">Basin</text>
<text x="239.70" y="37.10" font-size="9.1" text-anchor="middle" fill="#111" stroke="#111" stroke-width="0.1">Pamir</text>
<text x="239.70" y="52.20" font-size="9.1" text-anchor="middle" fill="#111" stroke="#111" stroke-width="0.1">Plateau</text>
<text x="269.57" y="37.10" font-size="9.1" text-anchor="middle" fill="#111" stroke="#111" stroke-width="0.1">Danghe</text>
<text x="269.57" y="52.20" font-size="9.1" text-anchor="middle" fill="#111" stroke="#111" stroke-width="0.1">Basin</text>
<text x="299.50" y="37.10" font-size="9.1" text-anchor="middle" fill="#111" stroke="#111" stroke-width="0.1">Qaidam</text>
<text x="299.50" y="52.20" font-size="9.1" text-anchor="middle" fill="#111" stroke="#111" stroke-width="0.1">Basin</text>
<text x="329.50" y="37.10" font-size="9.1" text-anchor="middle" fill="#111" stroke="#111" stroke-width="0.1">Xorkol</text>
<text x="329.50" y="52.20" font-size="9.1" text-anchor="middle" fill="#111" stroke="#111" stroke-width="0.1">Basin</text>
<text x="359.50" y="37.10" font-size="9.1" text-anchor="middle" fill="#111" stroke="#111" stroke-width="0.1">Kumkol</text>
<text x="359.50" y="52.20" font-size="9.1" text-anchor="middle" fill="#111" stroke="#111" stroke-width="0.1">Basin</text>
<text x="389.50" y="37.10" font-size="9.1" text-anchor="middle" fill="#111" stroke="#111" stroke-width="0.1">Kunlun</text>
<text x="389.50" y="52.20" font-size="9.1" text-anchor="middle" fill="#111" stroke="#111" stroke-width="0.1">Pass</text>
<text x="419.55" y="37.10" font-size="9.1" text-anchor="middle" fill="#111" stroke="#111" stroke-width="0.1">Xining</text>
<text x="419.55" y="52.20" font-size="9.1" text-anchor="middle" fill="#111" stroke="#111" stroke-width="0.1">Basin</text>
<text x="449.55" y="37.10" font-size="9.1" text-anchor="middle" fill="#111" stroke="#111" stroke-width="0.1">Linxia</text>
<text x="449.55" y="52.20" font-size="9.1" text-anchor="middle" fill="#111" stroke="#111" stroke-width="0.1">Basin</text>
<text x="479.43" y="36.67" font-size="7.8" text-anchor="middle" fill="#111" stroke="#111" stroke-width="0.1">Lanzhou</text>
<text x="479.43" y="52.20" font-size="9.1" text-anchor="middle" fill="#111" stroke="#111" stroke-width="0.1">Basin</text>
<text x="509.05" y="36.67" font-size="7.8" text-anchor="middle" fill="#111" stroke="#111" stroke-width="0.1">Lunpola</text>
<text x="509.05" y="52.20" font-size="9.1" text-anchor="middle" fill="#111" stroke="#111" stroke-width="0.1">Basin</text>
<text x="538.62" y="37.10" font-size="9.1" text-anchor="middle" fill="#111" stroke="#111" stroke-width="0.1">Bulong</text>
<text x="538.62" y="52.20" font-size="9.1" text-anchor="middle" fill="#111" stroke="#111" stroke-width="0.1">Basin</text>
<text x="568.38" y="37.10" font-size="9.1" text-anchor="middle" fill="#111" stroke="#111" stroke-width="0.1">Togton</text>
<text x="568.38" y="52.20" font-size="9.1" text-anchor="middle" fill="#111" stroke="#111" stroke-width="0.1">Basin</text>
<text x="598.25" y="37.10" font-size="9.1" text-anchor="middle" fill="#111" stroke="#111" stroke-width="0.1">HDS</text>
<text x="598.25" y="52.20" font-size="9.1" text-anchor="middle" fill="#111" stroke="#111" stroke-width="0.1">Area</text>
<text x="628.12" y="37.10" font-size="9.1" text-anchor="middle" fill="#111" stroke="#111" stroke-width="0.1">XLT</text>
<text x="628.12" y="52.20" font-size="9.1" text-anchor="middle" fill="#111" stroke="#111" stroke-width="0.1">Basin</text>
<text x="658.00" y="37.10" font-size="9.1" text-anchor="middle" fill="#111" stroke="#111" stroke-width="0.1">Lufeng</text>
<text x="658.00" y="52.20" font-size="9.1" text-anchor="middle" fill="#111" stroke="#111" stroke-width="0.1">Basin</text>
<text x="688.00" y="37.10" font-size="9.1" text-anchor="middle" fill="#111" stroke="#111" stroke-width="0.1">YM</text>
<text x="688.00" y="52.20" font-size="9.1" text-anchor="middle" fill="#111" stroke="#111" stroke-width="0.1">Basin</text>
<text x="718.00" y="37.10" font-size="9.1" text-anchor="middle" fill="#111" stroke="#111" stroke-width="0.1">Zanda</text>
<text x="718.00" y="52.20" font-size="9.1" text-anchor="middle" fill="#111" stroke="#111" stroke-width="0.1">Basin</text>
<text x="748.12" y="36.67" font-size="7.8" text-anchor="middle" fill="#111" stroke="#111" stroke-width="0.1">Moincer</text>
<text x="748.12" y="52.20" font-size="9.1" text-anchor="middle" fill="#111" stroke="#111" stroke-width="0.1">Basin</text>
<text x="778.25" y="37.10" font-size="9.1" text-anchor="middle" fill="#111" stroke="#111" stroke-width="0.1">Burang</text>
<text x="778.25" y="52.20" font-size="9.1" text-anchor="middle" fill="#111" stroke="#111" stroke-width="0.1">Basin</text>
<text x="808.12" y="36.67" font-size="7.8" text-anchor="middle" fill="#111" stroke="#111" stroke-width="0.1">Gyirong</text>
<text x="808.12" y="52.20" font-size="9.1" text-anchor="middle" fill="#111" stroke="#111" stroke-width="0.1">Basin</text>
<text x="837.88" y="37.10" font-size="9.1" text-anchor="middle" fill="#111" stroke="#111" stroke-width="0.1">Dati</text>
<text x="837.88" y="52.20" font-size="9.1" text-anchor="middle" fill="#111" stroke="#111" stroke-width="0.1">Basin</text>
<text x="867.75" y="37.10" font-size="9.1" text-anchor="middle" fill="#111" stroke="#111" stroke-width="0.1">Oiyug</text>
<text x="867.75" y="52.20" font-size="9.1" text-anchor="middle" fill="#111" stroke="#111" stroke-width="0.1">Basin</text>
<text x="897.50" y="37.10" font-size="9.1" text-anchor="middle" fill="#111" stroke="#111" stroke-width="0.1">Potwar</text>
<text x="897.50" y="52.20" font-size="9.1" text-anchor="middle" fill="#111" stroke="#111" stroke-width="0.1">Plateau</text>
<text x="927.12" y="36.54" font-size="7.4" text-anchor="middle" fill="#111" stroke="#111" stroke-width="0.1">Sulaiman</text>
<text x="927.12" y="52.20" font-size="9.1" text-anchor="middle" fill="#111" stroke="#111" stroke-width="0.1">Area</text>
<text x="957.25" y="37.10" font-size="9.1" text-anchor="middle" fill="#111" stroke="#111" stroke-width="0.1">TKL</text>
<text x="957.25" y="52.20" font-size="9.1" text-anchor="middle" fill="#111" stroke="#111" stroke-width="0.1">Basin</text>
<text x="86.30" y="62.72" font-size="9" text-anchor="start" fill="#111" stroke="#111" stroke-width="0.1">Pleistocene</text>
<text x="191.30" y="62.72" font-size="9" text-anchor="end" fill="#111" stroke="#111" stroke-width="0.1">Nihewanian</text>
<text x="86.80" y="655.82" font-size="9" text-anchor="start" fill="#111" stroke="#111" stroke-width="0.1">Oligocene</text>
<rect x="163.60" y="648.20" width="56.70" height="8.80" fill="#fff"/>
<text x="165.00" y="655.82" font-size="9" text-anchor="start" fill="#111" stroke="#111" stroke-width="0.1">Tabenbulukian</text>
<text x="138.70" y="81.19" font-size="8.6" text-anchor="middle" fill="#111" stroke="#111" stroke-width="0.1">Piacenzian</text>
<text x="138.30" y="120.99" font-size="8.6" text-anchor="middle" fill="#111" stroke="#111" stroke-width="0.1">Zanclean</text>
<text x="138.70" y="171.69" font-size="8.6" text-anchor="middle" fill="#111" stroke="#111" stroke-width="0.1">Messinian</text>
<text x="138.50" y="260.69" font-size="8.6" text-anchor="middle" fill="#111" stroke="#111" stroke-width="0.1">Tortonian</text>
<text x="138.50" y="352.89" font-size="8.6" text-anchor="middle" fill="#111" stroke="#111" stroke-width="0.1">Serravalian</text>
<text x="138.00" y="417.69" font-size="8.6" text-anchor="middle" fill="#111" stroke="#111" stroke-width="0.1">Langhian</text>
<text x="138.50" y="512.69" font-size="8.6" text-anchor="middle" fill="#111" stroke="#111" stroke-width="0.1">Burdigalian</text>
<text x="138.50" y="615.39" font-size="8.6" text-anchor="middle" fill="#111" stroke="#111" stroke-width="0.1">Aquitanian</text>
<text transform="translate(96.27,103.50) rotate(-90)" font-size="9" text-anchor="middle" fill="#111" stroke="#111" stroke-width="0.16">Pliocene</text>
<text transform="translate(109.97,79.80) rotate(-90)" font-size="9" text-anchor="middle" fill="#111" stroke="#111" stroke-width="0.16">Late</text>
<text transform="translate(109.97,118.60) rotate(-90)" font-size="9" text-anchor="middle" fill="#111" stroke="#111" stroke-width="0.16">Early</text>
<text transform="translate(96.27,384.40) rotate(-90)" font-size="9" text-anchor="middle" fill="#111" stroke="#111" stroke-width="0.16">Miocene</text>
<text transform="translate(109.97,236.00) rotate(-90)" font-size="9" text-anchor="middle" fill="#111" stroke="#111" stroke-width="0.16">Late Miocene</text>
<text transform="translate(109.97,384.00) rotate(-90)" font-size="9" text-anchor="middle" fill="#111" stroke="#111" stroke-width="0.16">Middle Miocene</text>
<text transform="translate(109.97,547.80) rotate(-90)" font-size="9" text-anchor="middle" fill="#111" stroke="#111" stroke-width="0.16">Early Miocene</text>
<text transform="translate(176.27,80.60) rotate(-90)" font-size="9" text-anchor="middle" fill="#111" stroke="#111" stroke-width="0.16">Maze-</text>
<text transform="translate(185.17,80.60) rotate(-90)" font-size="9" text-anchor="middle" fill="#111" stroke="#111" stroke-width="0.16">gouan</text>
<text transform="translate(176.27,129.40) rotate(-90)" font-size="9" text-anchor="middle" fill="#111" stroke="#111" stroke-width="0.16">Gao-</text>
<text transform="translate(185.17,120.00) rotate(-90)" font-size="9" text-anchor="middle" fill="#111" stroke="#111" stroke-width="0.16">zhuangian</text>
<text transform="translate(181.27,170.60) rotate(-90)" font-size="9" text-anchor="middle" fill="#111" stroke="#111" stroke-width="0.16">Baodean</text>
<text transform="translate(181.67,259.40) rotate(-90)" font-size="9" text-anchor="middle" fill="#111" stroke="#111" stroke-width="0.16">Bahean</text>
<text transform="translate(181.47,370.00) rotate(-90)" font-size="9" text-anchor="middle" fill="#111" stroke="#111" stroke-width="0.16">Tunggurian</text>
<text transform="translate(181.47,499.40) rotate(-90)" font-size="9" text-anchor="middle" fill="#111" stroke="#111" stroke-width="0.16">Shanwangian</text>
<text transform="translate(181.47,611.00) rotate(-90)" font-size="9" text-anchor="middle" fill="#111" stroke="#111" stroke-width="0.16">Xiejian</text>
<text x="226.43" y="62.72" font-size="9" text-anchor="middle" fill="#111" stroke="#111" stroke-width="0.1">Xiyu Fm.</text>
<text x="314.50" y="62.72" font-size="9" text-anchor="middle" fill="#111" stroke="#111" stroke-width="0.1">Qigequan Fm.</text>
<text x="359.50" y="62.72" font-size="9" text-anchor="middle" fill="#111" stroke="#111" stroke-width="0.1">XJ Gr.</text>
<text x="449.55" y="62.72" font-size="9" text-anchor="middle" fill="#111" stroke="#111" stroke-width="0.1">WC Fm</text>
<text x="628.12" y="62.72" font-size="9" text-anchor="middle" fill="#111" stroke="#111" stroke-width="0.1">HT Fm.</text>
<text x="688.00" y="62.72" font-size="9" text-anchor="middle" fill="#111" stroke="#111" stroke-width="0.1">YM Fm</text>
<text x="718.00" y="62.72" font-size="9" text-anchor="middle" fill="#111" stroke="#111" stroke-width="0.1">XZ Fm.</text>
<text x="824.40" y="62.72" font-size="9" text-anchor="middle" fill="#111" stroke="#111" stroke-width="0.1">Gongba Fm.</text>
<text x="897.50" y="62.72" font-size="9" text-anchor="middle" fill="#111" stroke="#111" stroke-width="0.1">PJ Fm.</text>
<text x="389.50" y="124.82" font-size="9" text-anchor="middle" fill="#111" stroke="#111" stroke-width="0.1">KL Fm.</text>
<text x="658.00" y="142.12" font-size="9" text-anchor="middle" fill="#111" stroke="#111" stroke-width="0.1">MSP</text>
<text x="658.00" y="153.12" font-size="9" text-anchor="middle" fill="#111" stroke="#111" stroke-width="0.1">Fm.</text>
<text x="449.55" y="655.42" font-size="9" text-anchor="middle" fill="#111" stroke="#111" stroke-width="0.1">JZG Fm</text>
<text x="479.43" y="655.42" font-size="9" text-anchor="middle" fill="#111" stroke="#111" stroke-width="0.1">GJT Fm</text>
<text x="867.75" y="645.12" font-size="9" text-anchor="middle" fill="#111" stroke="#111" stroke-width="0.1">RGL</text>
<text x="867.75" y="655.22" font-size="9" text-anchor="middle" fill="#111" stroke="#111" stroke-width="0.1">Fm.</text>
<rect x="584.00" y="648.50" width="23.80" height="8.50" fill="#fff"/>
<text x="584.60" y="655.42" font-size="9" text-anchor="start" fill="#111" stroke="#111" stroke-width="0.1">lukian</text>
<text transform="translate(213.98,90.00) rotate(-90)" font-size="9.1" text-anchor="middle" fill="#111" stroke="#111" stroke-width="0.16">Artux Fm.</text>
<text transform="translate(213.98,206.50) rotate(-90)" font-size="9.1" text-anchor="middle" fill="#111" stroke="#111" stroke-width="0.16">Pakabrak Fm.</text>
<text transform="translate(213.98,369.80) rotate(-90)" font-size="9.1" text-anchor="middle" fill="#111" stroke="#111" stroke-width="0.16">Anju’an Fm.</text>
<text transform="translate(213.98,548.20) rotate(-90)" font-size="9.1" text-anchor="middle" fill="#111" stroke="#111" stroke-width="0.16">Keziluoyi Fm.</text>
<text transform="translate(243.90,107.00) rotate(-90)" font-size="9.1" text-anchor="middle" fill="#111" stroke="#111" stroke-width="0.16">Xialafudie Fm.</text>
<text transform="translate(273.78,105.00) rotate(-90)" font-size="9.1" text-anchor="middle" fill="#111" stroke="#111" stroke-width="0.16">Shulehe Fm.</text>
<text transform="translate(273.78,433.00) rotate(-90)" font-size="9.1" text-anchor="middle" fill="#111" stroke="#111" stroke-width="0.16">Tiejianggou Fm.</text>
<text transform="translate(303.70,103.50) rotate(-90)" font-size="9.1" text-anchor="middle" fill="#111" stroke="#111" stroke-width="0.16">Shizigou Fm.</text>
<text transform="translate(303.70,229.30) rotate(-90)" font-size="9.1" text-anchor="middle" fill="#111" stroke="#111" stroke-width="0.16">Upper Youshashan Fm.</text>
<text transform="translate(303.70,495.50) rotate(-90)" font-size="9.1" text-anchor="middle" fill="#111" stroke="#111" stroke-width="0.16">Lower Youshashan Fm.</text>
<text transform="translate(333.70,170.40) rotate(-90)" font-size="9.1" text-anchor="middle" fill="#111" stroke="#111" stroke-width="0.16">Shizigou Fm.</text>
<text transform="translate(333.70,330.80) rotate(-90)" font-size="9.1" text-anchor="middle" fill="#111" stroke="#111" stroke-width="0.16">Upper Youshashan Fm.</text>
<text transform="translate(333.70,445.00) rotate(-90)" font-size="9.1" text-anchor="middle" fill="#111" stroke="#111" stroke-width="0.16">Lower Youshashan Fm.</text>
<text transform="translate(363.70,137.00) rotate(-90)" font-size="9.1" text-anchor="middle" fill="#111" stroke="#111" stroke-width="0.16">Hongliang Fm.</text>
<text transform="translate(363.70,283.00) rotate(-90)" font-size="9.1" text-anchor="middle" fill="#111" stroke="#111" stroke-width="0.16">Shibiliang Fm.</text>
<text transform="translate(363.70,497.70) rotate(-90)" font-size="9.1" text-anchor="middle" fill="#111" stroke="#111" stroke-width="0.16">Shimagou Fm.</text>
<text transform="translate(393.70,83.00) rotate(-90)" font-size="9.1" text-anchor="middle" fill="#111" stroke="#111" stroke-width="0.16">Qiangtang Fm.</text>
<text transform="translate(423.75,90.60) rotate(-90)" font-size="9.1" text-anchor="middle" fill="#111" stroke="#111" stroke-width="0.16">Shangtan Fm.</text>
<text transform="translate(423.75,162.00) rotate(-90)" font-size="9.1" text-anchor="middle" fill="#111" stroke="#111" stroke-width="0.16">Mojiazhuang Fm.</text>
<text transform="translate(423.75,325.00) rotate(-90)" font-size="9.1" text-anchor="middle" fill="#111" stroke="#111" stroke-width="0.16">Guanjiashan Fm.</text>
<text transform="translate(423.75,511.00) rotate(-90)" font-size="9.1" text-anchor="middle" fill="#111" stroke="#111" stroke-width="0.16">Chetougou Fm.</text>
<text transform="translate(423.75,610.50) rotate(-90)" font-size="9.1" text-anchor="middle" fill="#111" stroke="#111" stroke-width="0.16">Xiejia Fm.</text>
<text transform="translate(453.75,87.00) rotate(-90)" font-size="9.1" text-anchor="middle" fill="#111" stroke="#111" stroke-width="0.16">Jishi Fm.</text>
<text transform="translate(453.75,225.00) rotate(-90)" font-size="9.1" text-anchor="middle" fill="#111" stroke="#111" stroke-width="0.16">Liushu Fm.</text>
<text transform="translate(453.75,412.00) rotate(-90)" font-size="9.1" text-anchor="middle" fill="#111" stroke="#111" stroke-width="0.16">Dongxiang Fm.</text>
<text transform="translate(453.75,527.00) rotate(-90)" font-size="9.1" text-anchor="middle" fill="#111" stroke="#111" stroke-width="0.16">Shangzhuang Fm.</text>
<text transform="translate(483.63,102.50) rotate(-90)" font-size="9.1" text-anchor="middle" fill="#111" stroke="#111" stroke-width="0.16">Linxia Fm.</text>
<text transform="translate(483.63,219.50) rotate(-90)" font-size="9.1" text-anchor="middle" fill="#111" stroke="#111" stroke-width="0.16">Longgushan Fm.</text>
<text transform="translate(483.63,367.00) rotate(-90)" font-size="9.1" text-anchor="middle" fill="#111" stroke="#111" stroke-width="0.16">Xiajie Fm.</text>
<text transform="translate(483.63,498.00) rotate(-90)" font-size="9.1" text-anchor="middle" fill="#111" stroke="#111" stroke-width="0.16">Simagou Fm.</text>
<text transform="translate(513.25,497.00) rotate(-90)" font-size="9.1" text-anchor="middle" fill="#111" stroke="#111" stroke-width="0.16">Dingqing Fm.</text>
<text transform="translate(542.83,255.70) rotate(-90)" font-size="9.1" text-anchor="middle" fill="#111" stroke="#111" stroke-width="0.16">Bulong Fm.</text>
<text transform="translate(572.58,102.70) rotate(-90)" font-size="9.1" text-anchor="middle" fill="#111" stroke="#111" stroke-width="0.16">Quguo Fm.</text>
<text transform="translate(572.58,530.70) rotate(-90)" font-size="9.1" text-anchor="middle" fill="#111" stroke="#111" stroke-width="0.16">Wudaoliang Fm.</text>
<text transform="translate(602.45,103.00) rotate(-90)" font-size="9.1" text-anchor="middle" fill="#111" stroke="#111" stroke-width="0.16">Wangbuding Fm.</text>
<text transform="translate(632.33,357.50) rotate(-90)" font-size="9.1" text-anchor="middle" fill="#111" stroke="#111" stroke-width="0.16">Xiaolongtan Fm.</text>
<text transform="translate(662.20,183.00) rotate(-90)" font-size="9.1" text-anchor="middle" fill="#111" stroke="#111" stroke-width="0.16">Shihuiba Fm.</text>
<text transform="translate(692.20,95.60) rotate(-90)" font-size="9.1" text-anchor="middle" fill="#111" stroke="#111" stroke-width="0.16">Shagou Fm.</text>
<text transform="translate(722.20,140.00) rotate(-90)" font-size="9.1" text-anchor="middle" fill="#111" stroke="#111" stroke-width="0.16">Tuolin Fm.</text>
<text transform="translate(752.33,535.50) rotate(-90)" font-size="9.1" text-anchor="middle" fill="#111" stroke="#111" stroke-width="0.16">Rixugou Fm.</text>
<text transform="translate(782.45,104.60) rotate(-90)" font-size="9.1" text-anchor="middle" fill="#111" stroke="#111" stroke-width="0.16">Pulan Fm.</text>
<text transform="translate(782.45,265.60) rotate(-90)" font-size="9.1" text-anchor="middle" fill="#111" stroke="#111" stroke-width="0.16">Danzengzhukang Fm.</text>
<text transform="translate(812.33,140.60) rotate(-90)" font-size="9.1" text-anchor="middle" fill="#111" stroke="#111" stroke-width="0.16">Woma Fm.</text>
<text transform="translate(842.08,225.00) rotate(-90)" font-size="9.1" text-anchor="middle" fill="#111" stroke="#111" stroke-width="0.16">Dati Fm.</text>
<text transform="translate(871.95,103.00) rotate(-90)" font-size="9.1" text-anchor="middle" fill="#111" stroke="#111" stroke-width="0.16">Dazi Fm.</text>
<text transform="translate(871.95,178.70) rotate(-90)" font-size="9.1" text-anchor="middle" fill="#111" stroke="#111" stroke-width="0.16">Wuyu Fm.</text>
<text transform="translate(871.95,313.00) rotate(-90)" font-size="9.1" text-anchor="middle" fill="#111" stroke="#111" stroke-width="0.16">Laiqing Fm.</text>
<text transform="translate(871.95,466.50) rotate(-90)" font-size="9.1" text-anchor="middle" fill="#111" stroke="#111" stroke-width="0.16">Mangxiang Fm.</text>
<text transform="translate(901.70,173.00) rotate(-90)" font-size="9.1" text-anchor="middle" fill="#111" stroke="#111" stroke-width="0.16">Dhok Pathan Fm.</text>
<text transform="translate(901.70,282.00) rotate(-90)" font-size="9.1" text-anchor="middle" fill="#111" stroke="#111" stroke-width="0.16">Nagri Fm.</text>
<text transform="translate(901.70,353.40) rotate(-90)" font-size="9.1" text-anchor="middle" fill="#111" stroke="#111" stroke-width="0.16">Chinji Fm.</text>
<text transform="translate(901.70,447.00) rotate(-90)" font-size="9.1" text-anchor="middle" fill="#111" stroke="#111" stroke-width="0.16">Kamlial Fm.</text>
<text transform="translate(901.70,578.60) rotate(-90)" font-size="9.1" text-anchor="middle" fill="#111" stroke="#111" stroke-width="0.16">Murree Fm.</text>
<text transform="translate(931.33,112.20) rotate(-90)" font-size="9.1" text-anchor="middle" fill="#111" stroke="#111" stroke-width="0.16">Chaudhwan Fm.</text>
<text transform="translate(931.33,237.00) rotate(-90)" font-size="9.1" text-anchor="middle" fill="#111" stroke="#111" stroke-width="0.16">Litra Fm.</text>
<text transform="translate(931.33,425.60) rotate(-90)" font-size="9.1" text-anchor="middle" fill="#111" stroke="#111" stroke-width="0.16">Vihowa Fm.</text>
<text transform="translate(931.33,596.70) rotate(-90)" font-size="9.1" text-anchor="middle" fill="#111" stroke="#111" stroke-width="0.16">Chitarwata Fm.</text>
<text transform="translate(961.45,139.60) rotate(-90)" font-size="9.1" text-anchor="middle" fill="#111" stroke="#111" stroke-width="0.16">Thakkhola Fm.</text>
<text transform="translate(961.45,294.40) rotate(-90)" font-size="9.1" text-anchor="middle" fill="#111" stroke="#111" stroke-width="0.16">Tetang Fm.</text>
<text transform="translate(447.35,126.00) rotate(-90)" font-size="9.1" text-anchor="middle" fill="#111" stroke="#111" stroke-width="0.16">Hewang-</text>
<text transform="translate(458.15,126.00) rotate(-90)" font-size="9.1" text-anchor="middle" fill="#111" stroke="#111" stroke-width="0.16">jia Fm.</text>
<text transform="translate(447.35,338.00) rotate(-90)" font-size="9.1" text-anchor="middle" fill="#111" stroke="#111" stroke-width="0.16">Hujia-</text>
<text transform="translate(456.15,338.00) rotate(-90)" font-size="9.1" text-anchor="middle" fill="#111" stroke="#111" stroke-width="0.16">liang Fm</text>
<text transform="translate(477.23,574.80) rotate(-90)" font-size="9.1" text-anchor="middle" fill="#111" stroke="#111" stroke-width="0.16">HYT</text>
<text transform="translate(487.53,574.80) rotate(-90)" font-size="9.1" text-anchor="middle" fill="#111" stroke="#111" stroke-width="0.16">Fm.</text>
<text transform="translate(477.23,603.40) rotate(-90)" font-size="9.1" text-anchor="middle" fill="#111" stroke="#111" stroke-width="0.16">QJC</text>
<text transform="translate(487.53,603.40) rotate(-90)" font-size="9.1" text-anchor="middle" fill="#111" stroke="#111" stroke-width="0.16">Fm.</text>
<text transform="translate(477.23,632.60) rotate(-90)" font-size="9.1" text-anchor="middle" fill="#111" stroke="#111" stroke-width="0.16">GLS</text>
<text transform="translate(487.53,632.60) rotate(-90)" font-size="9.1" text-anchor="middle" fill="#111" stroke="#111" stroke-width="0.16">Fm.</text>
<text transform="translate(625.93,299.40) rotate(-90)" font-size="9.1" text-anchor="middle" fill="#111" stroke="#111" stroke-width="0.16">Buzhaoba</text>
<text transform="translate(634.73,299.40) rotate(-90)" font-size="9.1" text-anchor="middle" fill="#111" stroke="#111" stroke-width="0.16">Fm.</text>
<text transform="translate(685.80,211.60) rotate(-90)" font-size="9.1" text-anchor="middle" fill="#111" stroke="#111" stroke-width="0.16">Xiaohe</text>
<text transform="translate(695.40,211.60) rotate(-90)" font-size="9.1" text-anchor="middle" fill="#111" stroke="#111" stroke-width="0.16">Fm.</text>
<text transform="translate(714.60,80.60) rotate(-90)" font-size="9.1" text-anchor="middle" fill="#111" stroke="#111" stroke-width="0.16">Guge</text>
<text transform="translate(723.40,80.60) rotate(-90)" font-size="9.1" text-anchor="middle" fill="#111" stroke="#111" stroke-width="0.16">Fm.</text>
<text transform="translate(895.30,78.00) rotate(-90)" font-size="9.1" text-anchor="middle" fill="#111" stroke="#111" stroke-width="0.16">Tatrot</text>
<text transform="translate(906.10,78.00) rotate(-90)" font-size="9.1" text-anchor="middle" fill="#111" stroke="#111" stroke-width="0.16">Fm.</text>
</svg>
</body></html>
